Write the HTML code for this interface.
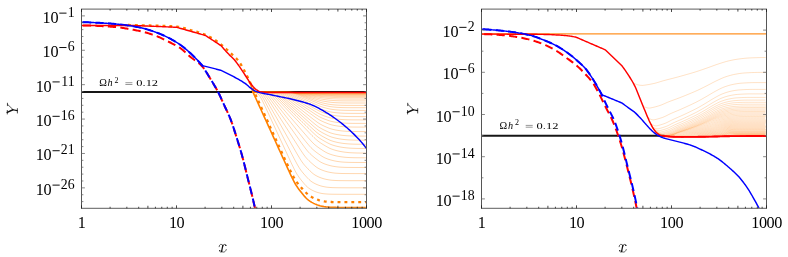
<!DOCTYPE html>
<html><head><meta charset="utf-8"><title>Y vs x</title>
<style>html,body{margin:0;padding:0;background:#fff}svg{display:block;will-change:transform}text{font-family:'Liberation Serif', serif;fill:#000}</style></head><body>
<svg width="788" height="257" viewBox="0 0 788 257">
<rect width="788" height="257" fill="#fff"/>
<defs><clipPath id="cl"><rect x="81.5" y="9" width="285" height="200.1"/></clipPath><clipPath id="cr"><rect x="481.5" y="9" width="285" height="200.1"/></clipPath></defs>
<g clip-path="url(#cl)" fill="none" stroke-linejoin="round">
<path d="M81.5,92.1H366.5" stroke="#161616" stroke-width="2"/>
<path d="M252,92.34L253,92.38L254,92.45L255,92.58L256,92.83L257,93.26L258,93.97L259,95.01L260,96.41L261,98.09L262,99.98L263,101.99L264,104.08L265,106.2L266,108.34L267,110.5L268,112.65L269,114.82L270,116.98L271,119.14L272,121.31L273,123.47L274,125.64L275,127.8L276,129.97L277,132.13L278,134.3L279,136.46L280,138.62L281,140.79L282,142.95L283,145.12L284,147.28L285,149.45L286,151.61L287,153.78L288,155.94L289,158.11L290,160.27L291,162.44L292,164.54L293,166.6L294,168.65L295,170.64L296,172.5L297,174.19L298,175.73L299,177.18L300,178.54L301,179.84L302,181.08L303,182.3L304,183.51L305,184.67L306,185.75L307,186.72L308,187.55L309,188.29L310,188.97L311,189.58L312,190.14L313,190.63L314,191.09L315,191.52L316,191.91L317,192.26L318,192.57L319,192.83L320,193.07L321,193.29L322,193.49L323,193.65L324,193.77L325,193.86L326,193.95L327,194.02L328,194.09L329,194.14L330,194.18L331,194.2L332,194.22L333,194.23L334,194.24L335,194.25L336,194.26L337,194.27L338,194.28L339,194.29L340,194.29L341,194.3L342,194.3L343,194.3L344,194.3L345,194.3L346,194.3L347,194.3L348,194.3L349,194.3L350,194.3L351,194.3L352,194.3L353,194.3L354,194.3L355,194.3L356,194.3L357,194.3L358,194.3L359,194.3L360,194.3L361,194.3L362,194.3L363,194.3L364,194.3L365,194.3L366,194.3M252,92.31L253,92.32L254,92.34L255,92.38L256,92.46L257,92.61L258,92.87L259,93.33L260,94.06L261,95.1L262,96.45L263,98.04L264,99.79L265,101.64L266,103.54L267,105.47L268,107.41L269,109.36L270,111.32L271,113.28L272,115.24L273,117.19L274,119.15L275,121.11L276,123.07L277,125.03L278,126.99L279,128.96L280,130.92L281,132.88L282,134.84L283,136.8L284,138.76L285,140.72L286,142.68L287,144.64L288,146.6L289,148.56L290,150.52L291,152.48L292,154.44L293,156.4L294,158.36L295,160.24L296,162.11L297,163.97L298,165.76L299,167.44L300,168.96L301,170.36L302,171.68L303,172.92L304,174.1L305,175.23L306,176.34L307,177.43L308,178.5L309,179.5L310,180.42L311,181.22L312,181.91L313,182.54L314,183.12L315,183.65L316,184.13L317,184.56L318,184.96L319,185.33L320,185.68L321,185.98L322,186.25L323,186.48L324,186.69L325,186.89L326,187.06L327,187.2L328,187.31L329,187.39L330,187.47L331,187.54L332,187.6L333,187.65L334,187.68L335,187.7L336,187.72L337,187.73L338,187.74L339,187.75L340,187.76L341,187.77L342,187.78L343,187.78L344,187.79L345,187.79L346,187.8L347,187.8L348,187.8L349,187.8L350,187.8L351,187.8L352,187.8L353,187.8L354,187.8L355,187.8L356,187.8L357,187.8L358,187.8L359,187.8L360,187.8L361,187.8L362,187.8L363,187.8L364,187.8L365,187.8L366,187.8M252,92.3L253,92.31L254,92.31L255,92.32L256,92.35L257,92.39L258,92.48L259,92.63L260,92.92L261,93.39L262,94.13L263,95.15L264,96.43L265,97.9L266,99.5L267,101.18L268,102.89L269,104.62L270,106.37L271,108.12L272,109.87L273,111.63L274,113.38L275,115.14L276,116.89L277,118.65L278,120.41L279,122.16L280,123.92L281,125.68L282,127.43L283,129.19L284,130.95L285,132.7L286,134.46L287,136.22L288,137.97L289,139.73L290,141.49L291,143.24L292,145L293,146.76L294,148.52L295,150.27L296,152.03L297,153.79L298,155.46L299,157.14L300,158.79L301,160.39L302,161.89L303,163.26L304,164.52L305,165.7L306,166.81L307,167.88L308,168.9L309,169.89L310,170.88L311,171.84L312,172.76L313,173.6L314,174.36L315,175.01L316,175.59L317,176.13L318,176.63L319,177.08L320,177.49L321,177.86L322,178.21L323,178.53L324,178.83L325,179.09L326,179.32L327,179.52L328,179.71L329,179.89L330,180.04L331,180.16L332,180.25L333,180.33L334,180.4L335,180.46L336,180.51L337,180.56L338,180.59L339,180.61L340,180.62L341,180.63L342,180.64L343,180.65L344,180.66L345,180.67L346,180.68L347,180.68L348,180.69L349,180.69L350,180.7L351,180.7L352,180.7L353,180.7L354,180.7L355,180.7L356,180.7L357,180.7L358,180.7L359,180.7L360,180.7L361,180.7L362,180.7L363,180.7L364,180.7L365,180.7L366,180.7M252,92.3L253,92.3L254,92.3L255,92.31L256,92.31L257,92.33L258,92.35L259,92.4L260,92.49L261,92.66L262,92.96L263,93.44L264,94.17L265,95.16L266,96.36L267,97.71L268,99.16L269,100.67L270,102.2L271,103.75L272,105.31L273,106.87L274,108.43L275,110L276,111.56L277,113.13L278,114.69L279,116.26L280,117.82L281,119.39L282,120.95L283,122.52L284,124.09L285,125.65L286,127.22L287,128.78L288,130.35L289,131.92L290,133.48L291,135.05L292,136.61L293,138.18L294,139.74L295,141.31L296,142.88L297,144.44L298,146.01L299,147.57L300,149.13L301,150.62L302,152.11L303,153.58L304,155L305,156.34L306,157.55L307,158.68L308,159.73L309,160.73L310,161.69L311,162.6L312,163.49L313,164.37L314,165.23L315,166.06L316,166.84L317,167.54L318,168.15L319,168.69L320,169.19L321,169.65L322,170.07L323,170.45L324,170.8L325,171.12L326,171.43L327,171.71L328,171.96L329,172.19L330,172.38L331,172.56L332,172.72L333,172.87L334,173.01L335,173.11L336,173.19L337,173.26L338,173.32L339,173.38L340,173.42L341,173.46L342,173.5L343,173.52L344,173.53L345,173.54L346,173.55L347,173.56L348,173.56L349,173.57L350,173.58L351,173.58L352,173.59L353,173.59L354,173.6L355,173.6L356,173.6L357,173.6L358,173.6L359,173.6L360,173.6L361,173.6L362,173.6L363,173.6L364,173.6L365,173.6L366,173.6M252,92.3L253,92.3L254,92.3L255,92.3L256,92.3L257,92.31L258,92.32L259,92.33L260,92.36L261,92.41L262,92.51L263,92.69L264,93L265,93.5L266,94.22L267,95.17L268,96.3L269,97.54L270,98.86L271,100.22L272,101.6L273,102.99L274,104.39L275,105.79L276,107.2L277,108.6L278,110L279,111.41L280,112.81L281,114.22L282,115.62L283,117.03L284,118.43L285,119.84L286,121.24L287,122.65L288,124.05L289,125.46L290,126.86L291,128.27L292,129.67L293,131.08L294,132.48L295,133.89L296,135.29L297,136.7L298,138.1L299,139.51L300,140.91L301,142.32L302,143.72L303,145.11L304,146.44L305,147.78L306,149.1L307,150.37L308,151.56L309,152.65L310,153.66L311,154.61L312,155.51L313,156.37L314,157.2L315,158L316,158.79L317,159.57L318,160.32L319,161.03L320,161.69L321,162.26L322,162.77L323,163.23L324,163.66L325,164.05L326,164.41L327,164.74L328,165.04L329,165.32L330,165.59L331,165.83L332,166.05L333,166.24L334,166.41L335,166.57L336,166.72L337,166.85L338,166.96L339,167.06L340,167.13L341,167.19L342,167.24L343,167.29L344,167.34L345,167.37L346,167.4L347,167.42L348,167.43L349,167.44L350,167.45L351,167.46L352,167.46L353,167.47L354,167.48L355,167.48L356,167.49L357,167.49L358,167.49L359,167.5L360,167.5L361,167.5L362,167.5L363,167.5L364,167.5L365,167.5L366,167.5M252,92.3L253,92.3L254,92.3L255,92.3L256,92.3L257,92.3L258,92.3L259,92.31L260,92.32L261,92.33L262,92.36L263,92.42L264,92.53L265,92.72L266,93.05L267,93.56L268,94.28L269,95.19L270,96.25L271,97.4L272,98.61L273,99.85L274,101.11L275,102.37L276,103.64L277,104.91L278,106.18L279,107.46L280,108.73L281,110L282,111.28L283,112.55L284,113.82L285,115.1L286,116.37L287,117.64L288,118.92L289,120.19L290,121.46L291,122.74L292,124.01L293,125.28L294,126.56L295,127.83L296,129.1L297,130.38L298,131.65L299,132.93L300,134.2L301,135.47L302,136.75L303,138.02L304,139.29L305,140.57L306,141.81L307,143.02L308,144.23L309,145.43L310,146.57L311,147.65L312,148.64L313,149.55L314,150.42L315,151.24L316,152.02L317,152.77L318,153.5L319,154.21L320,154.92L321,155.62L322,156.27L323,156.88L324,157.43L325,157.91L326,158.34L327,158.74L328,159.11L329,159.45L330,159.76L331,160.05L332,160.31L333,160.56L334,160.8L335,161.01L336,161.2L337,161.37L338,161.52L339,161.66L340,161.79L341,161.91L342,162.01L343,162.09L344,162.16L345,162.21L346,162.26L347,162.31L348,162.34L349,162.38L350,162.4L351,162.42L352,162.43L353,162.44L354,162.45L355,162.46L356,162.46L357,162.47L358,162.48L359,162.48L360,162.49L361,162.49L362,162.49L363,162.5L364,162.5L365,162.5L366,162.5M252,92.3L253,92.3L254,92.3L255,92.3L256,92.3L257,92.3L258,92.3L259,92.3L260,92.3L261,92.31L262,92.32L263,92.34L264,92.37L265,92.43L266,92.55L267,92.76L268,93.1L269,93.62L270,94.33L271,95.2L272,96.19L273,97.25L274,98.36L275,99.49L276,100.63L277,101.78L278,102.93L279,104.08L280,105.23L281,106.39L282,107.54L283,108.7L284,109.85L285,111.01L286,112.16L287,113.32L288,114.47L289,115.63L290,116.78L291,117.93L292,119.09L293,120.24L294,121.4L295,122.55L296,123.71L297,124.86L298,126.02L299,127.17L300,128.33L301,129.48L302,130.64L303,131.79L304,132.95L305,134.1L306,135.26L307,136.41L308,137.57L309,138.68L310,139.78L311,140.88L312,141.96L313,142.99L314,143.97L315,144.86L316,145.69L317,146.48L318,147.22L319,147.94L320,148.62L321,149.28L322,149.93L323,150.58L324,151.21L325,151.82L326,152.39L327,152.9L328,153.36L329,153.76L330,154.14L331,154.49L332,154.81L333,155.1L334,155.37L335,155.62L336,155.86L337,156.08L338,156.28L339,156.47L340,156.64L341,156.79L342,156.92L343,157.04L344,157.16L345,157.27L346,157.35L347,157.43L348,157.48L349,157.53L350,157.58L351,157.62L352,157.65L353,157.68L354,157.71L355,157.73L356,157.74L357,157.74L358,157.75L359,157.76L360,157.77L361,157.77L362,157.78L363,157.78L364,157.79L365,157.79L366,157.79M252,92.3L253,92.3L254,92.3L255,92.3L256,92.3L257,92.3L258,92.3L259,92.3L260,92.3L261,92.3L262,92.31L263,92.31L264,92.32L265,92.34L266,92.38L267,92.44L268,92.57L269,92.79L270,93.14L271,93.67L272,94.35L273,95.18L274,96.09L275,97.07L276,98.07L277,99.1L278,100.13L279,101.17L280,102.21L281,103.25L282,104.29L283,105.33L284,106.37L285,107.42L286,108.46L287,109.5L288,110.54L289,111.59L290,112.63L291,113.67L292,114.71L293,115.76L294,116.8L295,117.84L296,118.88L297,119.92L298,120.97L299,122.01L300,123.05L301,124.09L302,125.14L303,126.18L304,127.22L305,128.26L306,129.31L307,130.35L308,131.39L309,132.43L310,133.48L311,134.52L312,135.52L313,136.51L314,137.5L315,138.47L316,139.4L317,140.28L318,141.09L319,141.84L320,142.55L321,143.22L322,143.87L323,144.49L324,145.09L325,145.68L326,146.27L327,146.84L328,147.39L329,147.92L330,148.4L331,148.83L332,149.21L333,149.56L334,149.88L335,150.18L336,150.46L337,150.72L338,150.95L339,151.17L340,151.38L341,151.57L342,151.75L343,151.92L344,152.06L345,152.19L346,152.31L347,152.42L348,152.52L349,152.62L350,152.7L351,152.76L352,152.81L353,152.85L354,152.89L355,152.93L356,152.96L357,152.99L358,153.01L359,153.03L360,153.04L361,153.05L362,153.05L363,153.06L364,153.07L365,153.07L366,153.08M252,92.3L253,92.3L254,92.3L255,92.3L256,92.3L257,92.3L258,92.3L259,92.3L260,92.3L261,92.3L262,92.3L263,92.3L264,92.31L265,92.31L266,92.32L267,92.35L268,92.39L269,92.47L270,92.61L271,92.85L272,93.23L273,93.78L274,94.47L275,95.28L276,96.17L277,97.11L278,98.07L279,99.04L280,100.02L281,101.01L282,101.99L283,102.98L284,103.97L285,104.96L286,105.95L287,106.94L288,107.93L289,108.92L290,109.9L291,110.89L292,111.88L293,112.87L294,113.86L295,114.85L296,115.84L297,116.83L298,117.82L299,118.81L300,119.79L301,120.78L302,121.77L303,122.76L304,123.75L305,124.74L306,125.73L307,126.72L308,127.71L309,128.7L310,129.69L311,130.67L312,131.65L313,132.59L314,133.54L315,134.47L316,135.38L317,136.24L318,137.04L319,137.77L320,138.46L321,139.12L322,139.74L323,140.34L324,140.92L325,141.48L326,142.03L327,142.58L328,143.11L329,143.62L330,144.08L331,144.5L332,144.86L333,145.2L334,145.51L335,145.79L336,146.06L337,146.3L338,146.52L339,146.73L340,146.93L341,147.11L342,147.28L343,147.43L344,147.57L345,147.68L346,147.8L347,147.9L348,147.99L349,148.08L350,148.15L351,148.2L352,148.25L353,148.29L354,148.32L355,148.36L356,148.39L357,148.41L358,148.43L359,148.44L360,148.45L361,148.46L362,148.46L363,148.47L364,148.47L365,148.48L366,148.48M252,92.3L253,92.3L254,92.3L255,92.3L256,92.3L257,92.3L258,92.3L259,92.3L260,92.3L261,92.3L262,92.3L263,92.3L264,92.3L265,92.3L266,92.31L267,92.31L268,92.33L269,92.35L270,92.4L271,92.49L272,92.65L273,92.92L274,93.33L275,93.89L276,94.59L277,95.39L278,96.26L279,97.16L280,98.08L281,99.01L282,99.95L283,100.89L284,101.83L285,102.77L286,103.71L287,104.66L288,105.6L289,106.54L290,107.49L291,108.43L292,109.37L293,110.32L294,111.26L295,112.2L296,113.15L297,114.09L298,115.03L299,115.98L300,116.92L301,117.86L302,118.81L303,119.75L304,120.69L305,121.64L306,122.58L307,123.52L308,124.47L309,125.41L310,126.35L311,127.3L312,128.24L313,129.15L314,130.05L315,130.95L316,131.83L317,132.67L318,133.45L319,134.17L320,134.84L321,135.47L322,136.07L323,136.65L324,137.2L325,137.74L326,138.27L327,138.79L328,139.3L329,139.78L330,140.22L331,140.62L332,140.96L333,141.28L334,141.57L335,141.84L336,142.09L337,142.32L338,142.52L339,142.72L340,142.9L341,143.07L342,143.23L343,143.37L344,143.49L345,143.6L346,143.7L347,143.79L348,143.88L349,143.95L350,144.01L351,144.05L352,144.09L353,144.13L354,144.16L355,144.19L356,144.21L357,144.23L358,144.24L359,144.25L360,144.26L361,144.26L362,144.27L363,144.27L364,144.28L365,144.28L366,144.29M252,92.3L253,92.3L254,92.3L255,92.3L256,92.3L257,92.3L258,92.3L259,92.3L260,92.3L261,92.3L262,92.3L263,92.3L264,92.3L265,92.3L266,92.3L267,92.3L268,92.31L269,92.32L270,92.33L271,92.36L272,92.42L273,92.52L274,92.7L275,92.99L276,93.42L277,94L278,94.7L279,95.48L280,96.31L281,97.18L282,98.06L283,98.94L284,99.84L285,100.73L286,101.63L287,102.52L288,103.42L289,104.31L290,105.21L291,106.11L292,107L293,107.9L294,108.8L295,109.69L296,110.59L297,111.49L298,112.38L299,113.28L300,114.18L301,115.07L302,115.97L303,116.87L304,117.76L305,118.66L306,119.56L307,120.45L308,121.35L309,122.25L310,123.14L311,124.04L312,124.94L313,125.83L314,126.68L315,127.53L316,128.38L317,129.19L318,129.96L319,130.67L320,131.31L321,131.92L322,132.5L323,133.05L324,133.58L325,134.09L326,134.6L327,135.1L328,135.58L329,136.04L330,136.46L331,136.83L332,137.16L333,137.45L334,137.73L335,137.98L336,138.21L337,138.42L338,138.62L339,138.8L340,138.97L341,139.13L342,139.27L343,139.39L344,139.5L345,139.6L346,139.7L347,139.78L348,139.85L349,139.91L350,139.96L351,140L352,140.03L353,140.07L354,140.09L355,140.12L356,140.14L357,140.15L358,140.16L359,140.16L360,140.17L361,140.17L362,140.18L363,140.18L364,140.19L365,140.19L366,140.19M252,92.3L253,92.3L254,92.3L255,92.3L256,92.3L257,92.3L258,92.3L259,92.3L260,92.3L261,92.3L262,92.3L263,92.3L264,92.3L265,92.3L266,92.3L267,92.3L268,92.3L269,92.31L270,92.31L271,92.32L272,92.34L273,92.37L274,92.43L275,92.55L276,92.75L277,93.06L278,93.51L279,94.09L280,94.78L281,95.54L282,96.33L283,97.16L284,97.99L285,98.83L286,99.67L287,100.52L288,101.36L289,102.21L290,103.06L291,103.9L292,104.75L293,105.6L294,106.44L295,107.29L296,108.14L297,108.98L298,109.83L299,110.68L300,111.52L301,112.37L302,113.22L303,114.06L304,114.91L305,115.76L306,116.6L307,117.45L308,118.3L309,119.14L310,119.99L311,120.84L312,121.69L313,122.53L314,123.35L315,124.16L316,124.96L317,125.74L318,126.49L319,127.18L320,127.8L321,128.39L322,128.94L323,129.47L324,129.97L325,130.45L326,130.93L327,131.4L328,131.86L329,132.29L330,132.69L331,133.04L332,133.34L333,133.62L334,133.88L335,134.11L336,134.33L337,134.52L338,134.7L339,134.87L340,135.03L341,135.17L342,135.3L343,135.41L344,135.51L345,135.6L346,135.68L347,135.76L348,135.82L349,135.87L350,135.91L351,135.94L352,135.97L353,136L354,136.02L355,136.04L356,136.05L357,136.06L358,136.06L359,136.07L360,136.07L361,136.08L362,136.08L363,136.09L364,136.09L365,136.09L366,136.1M252,92.3L253,92.3L254,92.3L255,92.3L256,92.3L257,92.3L258,92.3L259,92.3L260,92.3L261,92.3L262,92.3L263,92.3L264,92.3L265,92.3L266,92.3L267,92.3L268,92.3L269,92.3L270,92.3L271,92.31L272,92.31L273,92.32L274,92.34L275,92.38L276,92.45L277,92.58L278,92.79L279,93.12L280,93.57L281,94.15L282,94.81L283,95.52L284,96.27L285,97.04L286,97.81L287,98.59L288,99.37L289,100.16L290,100.94L291,101.73L292,102.51L293,103.3L294,104.09L295,104.87L296,105.66L297,106.44L298,107.23L299,108.01L300,108.8L301,109.58L302,110.37L303,111.16L304,111.94L305,112.73L306,113.51L307,114.3L308,115.08L309,115.87L310,116.66L311,117.44L312,118.23L313,119.01L314,119.79L315,120.54L316,121.29L317,122.03L318,122.73L319,123.39L320,123.99L321,124.54L322,125.06L323,125.55L324,126.02L325,126.48L326,126.92L327,127.36L328,127.78L329,128.18L330,128.55L331,128.87L332,129.15L333,129.41L334,129.65L335,129.86L336,130.05L337,130.23L338,130.39L339,130.55L340,130.69L341,130.81L342,130.93L343,131.02L344,131.11L345,131.19L346,131.27L347,131.33L348,131.38L349,131.41L350,131.45L351,131.48L352,131.5L353,131.53L354,131.54L355,131.56L356,131.56L357,131.57L358,131.57L359,131.58L360,131.58L361,131.59L362,131.59L363,131.59L364,131.59L365,131.6L366,131.6M252,92.3L253,92.3L254,92.3L255,92.3L256,92.3L257,92.3L258,92.3L259,92.3L260,92.3L261,92.3L262,92.3L263,92.3L264,92.3L265,92.3L266,92.3L267,92.3L268,92.3L269,92.3L270,92.3L271,92.3L272,92.3L273,92.31L274,92.31L275,92.32L276,92.35L277,92.39L278,92.47L279,92.6L280,92.83L281,93.16L282,93.62L283,94.17L284,94.79L285,95.46L286,96.15L287,96.85L288,97.57L289,98.28L290,99L291,99.72L292,100.44L293,101.16L294,101.88L295,102.6L296,103.32L297,104.04L298,104.76L299,105.48L300,106.2L301,106.92L302,107.64L303,108.36L304,109.08L305,109.8L306,110.52L307,111.24L308,111.96L309,112.68L310,113.4L311,114.12L312,114.84L313,115.56L314,116.28L315,116.98L316,117.67L317,118.35L318,119.01L319,119.63L320,120.2L321,120.71L322,121.2L323,121.66L324,122.09L325,122.51L326,122.91L327,123.32L328,123.71L329,124.08L330,124.41L331,124.7L332,124.96L333,125.19L334,125.4L335,125.6L336,125.77L337,125.93L338,126.08L339,126.21L340,126.34L341,126.45L342,126.54L343,126.63L344,126.71L345,126.78L346,126.84L347,126.89L348,126.93L349,126.96L350,126.98L351,127.01L352,127.03L353,127.05L354,127.06L355,127.07L356,127.07L357,127.08L358,127.08L359,127.08L360,127.09L361,127.09L362,127.09L363,127.1L364,127.1L365,127.1L366,127.1M252,92.3L253,92.3L254,92.3L255,92.3L256,92.3L257,92.3L258,92.3L259,92.3L260,92.3L261,92.3L262,92.3L263,92.3L264,92.3L265,92.3L266,92.3L267,92.3L268,92.3L269,92.3L270,92.3L271,92.3L272,92.3L273,92.3L274,92.3L275,92.31L276,92.31L277,92.33L278,92.35L279,92.4L280,92.48L281,92.63L282,92.87L283,93.21L284,93.66L285,94.2L286,94.79L287,95.41L288,96.06L289,96.72L290,97.38L291,98.04L292,98.71L293,99.37L294,100.04L295,100.71L296,101.37L297,102.04L298,102.71L299,103.37L300,104.04L301,104.71L302,105.38L303,106.04L304,106.71L305,107.38L306,108.04L307,108.71L308,109.38L309,110.04L310,110.71L311,111.38L312,112.05L313,112.71L314,113.38L315,114.05L316,114.68L317,115.31L318,115.94L319,116.53L320,117.07L321,117.56L322,118.02L323,118.45L324,118.85L325,119.24L326,119.62L327,119.99L328,120.36L329,120.7L330,121.01L331,121.28L332,121.51L333,121.72L334,121.92L335,122.09L336,122.25L337,122.39L338,122.53L339,122.65L340,122.76L341,122.86L342,122.94L343,123.01L344,123.08L345,123.14L346,123.2L347,123.23L348,123.26L349,123.29L350,123.31L351,123.33L352,123.35L353,123.36L354,123.37L355,123.37L356,123.38L357,123.38L358,123.39L359,123.39L360,123.39L361,123.39L362,123.4L363,123.4L364,123.4L365,123.4L366,123.4M252,92.3L253,92.3L254,92.3L255,92.3L256,92.3L257,92.3L258,92.3L259,92.3L260,92.3L261,92.3L262,92.3L263,92.3L264,92.3L265,92.3L266,92.3L267,92.3L268,92.3L269,92.3L270,92.3L271,92.3L272,92.3L273,92.3L274,92.3L275,92.3L276,92.3L277,92.31L278,92.32L279,92.33L280,92.36L281,92.41L282,92.5L283,92.66L284,92.91L285,93.26L286,93.7L287,94.21L288,94.76L289,95.35L290,95.94L291,96.55L292,97.16L293,97.77L294,98.38L295,99L296,99.61L297,100.23L298,100.84L299,101.46L300,102.07L301,102.68L302,103.3L303,103.91L304,104.53L305,105.14L306,105.76L307,106.37L308,106.99L309,107.6L310,108.21L311,108.83L312,109.44L313,110.06L314,110.67L315,111.29L316,111.88L317,112.47L318,113.05L319,113.61L320,114.12L321,114.59L322,115.02L323,115.42L324,115.8L325,116.16L326,116.51L327,116.85L328,117.19L329,117.5L330,117.79L331,118.03L332,118.25L333,118.44L334,118.61L335,118.77L336,118.91L337,119.04L338,119.16L339,119.27L340,119.37L341,119.45L342,119.52L343,119.59L344,119.65L345,119.7L346,119.74L347,119.77L348,119.8L349,119.82L350,119.84L351,119.85L352,119.87L353,119.87L354,119.88L355,119.88L356,119.88L357,119.89L358,119.89L359,119.89L360,119.89L361,119.9L362,119.9L363,119.9L364,119.9L365,119.9L366,119.9M252,92.3L253,92.3L254,92.3L255,92.3L256,92.3L257,92.3L258,92.3L259,92.3L260,92.3L261,92.3L262,92.3L263,92.3L264,92.3L265,92.3L266,92.3L267,92.3L268,92.3L269,92.3L270,92.3L271,92.3L272,92.3L273,92.3L274,92.3L275,92.3L276,92.3L277,92.3L278,92.3L279,92.31L280,92.32L281,92.33L282,92.36L283,92.42L284,92.52L285,92.69L286,92.94L287,93.29L288,93.71L289,94.19L290,94.71L291,95.25L292,95.8L293,96.36L294,96.91L295,97.47L296,98.04L297,98.6L298,99.16L299,99.72L300,100.28L301,100.85L302,101.41L303,101.97L304,102.53L305,103.1L306,103.66L307,104.22L308,104.78L309,105.34L310,105.91L311,106.47L312,107.03L313,107.59L314,108.16L315,108.72L316,109.28L317,109.81L318,110.35L319,110.87L320,111.36L321,111.8L322,112.2L323,112.57L324,112.92L325,113.26L326,113.58L327,113.89L328,114.2L329,114.49L330,114.75L331,114.97L332,115.16L333,115.34L334,115.5L335,115.64L336,115.76L337,115.88L338,115.99L339,116.08L340,116.17L341,116.24L342,116.3L343,116.36L344,116.41L345,116.45L346,116.48L347,116.5L348,116.52L349,116.54L350,116.56L351,116.57L352,116.58L353,116.58L354,116.58L355,116.59L356,116.59L357,116.59L358,116.59L359,116.6L360,116.6L361,116.6L362,116.6L363,116.6L364,116.6L365,116.6L366,116.6M252,92.3L253,92.3L254,92.3L255,92.3L256,92.3L257,92.3L258,92.3L259,92.3L260,92.3L261,92.3L262,92.3L263,92.3L264,92.3L265,92.3L266,92.3L267,92.3L268,92.3L269,92.3L270,92.3L271,92.3L272,92.3L273,92.3L274,92.3L275,92.3L276,92.3L277,92.3L278,92.3L279,92.3L280,92.31L281,92.31L282,92.32L283,92.34L284,92.37L285,92.43L286,92.54L287,92.71L288,92.97L289,93.3L290,93.7L291,94.15L292,94.62L293,95.11L294,95.61L295,96.12L296,96.62L297,97.13L298,97.64L299,98.14L300,98.65L301,99.16L302,99.67L303,100.18L304,100.69L305,101.19L306,101.7L307,102.21L308,102.72L309,103.23L310,103.73L311,104.24L312,104.75L313,105.26L314,105.77L315,106.28L316,106.78L317,107.28L318,107.76L319,108.24L320,108.7L321,109.11L322,109.48L323,109.83L324,110.15L325,110.45L326,110.74L327,111.03L328,111.3L329,111.57L330,111.8L331,112L332,112.17L333,112.33L334,112.47L335,112.59L336,112.7L337,112.81L338,112.9L339,112.98L340,113.05L341,113.11L342,113.17L343,113.22L344,113.26L345,113.29L346,113.31L347,113.33L348,113.35L349,113.36L350,113.37L351,113.38L352,113.38L353,113.39L354,113.39L355,113.39L356,113.39L357,113.4L358,113.4L359,113.4L360,113.4L361,113.4L362,113.4L363,113.4L364,113.4L365,113.4L366,113.4M252,92.3L253,92.3L254,92.3L255,92.3L256,92.3L257,92.3L258,92.3L259,92.3L260,92.3L261,92.3L262,92.3L263,92.3L264,92.3L265,92.3L266,92.3L267,92.3L268,92.3L269,92.3L270,92.3L271,92.3L272,92.3L273,92.3L274,92.3L275,92.3L276,92.3L277,92.3L278,92.3L279,92.3L280,92.3L281,92.3L282,92.31L283,92.31L284,92.32L285,92.34L286,92.38L287,92.44L288,92.55L289,92.73L290,92.98L291,93.3L292,93.67L293,94.08L294,94.51L295,94.95L296,95.4L297,95.85L298,96.3L299,96.76L300,97.21L301,97.66L302,98.12L303,98.57L304,99.03L305,99.48L306,99.94L307,100.39L308,100.85L309,101.3L310,101.76L311,102.21L312,102.66L313,103.12L314,103.57L315,104.03L316,104.48L317,104.94L318,105.37L319,105.8L320,106.22L321,106.6L322,106.95L323,107.26L324,107.55L325,107.83L326,108.09L327,108.34L328,108.59L329,108.83L330,109.04L331,109.21L332,109.37L333,109.5L334,109.62L335,109.73L336,109.83L337,109.92L338,110L339,110.07L340,110.13L341,110.18L342,110.22L343,110.26L344,110.29L345,110.32L346,110.33L347,110.35L348,110.36L349,110.37L350,110.38L351,110.38L352,110.39L353,110.39L354,110.39L355,110.39L356,110.4L357,110.4L358,110.4L359,110.4L360,110.4L361,110.4L362,110.4L363,110.4L364,110.4L365,110.4L366,110.4M252,92.3L253,92.3L254,92.3L255,92.3L256,92.3L257,92.3L258,92.3L259,92.3L260,92.3L261,92.3L262,92.3L263,92.3L264,92.3L265,92.3L266,92.3L267,92.3L268,92.3L269,92.3L270,92.3L271,92.3L272,92.3L273,92.3L274,92.3L275,92.3L276,92.3L277,92.3L278,92.3L279,92.3L280,92.3L281,92.3L282,92.3L283,92.3L284,92.31L285,92.31L286,92.32L287,92.34L288,92.38L289,92.45L290,92.57L291,92.74L292,92.98L293,93.28L294,93.62L295,93.99L296,94.38L297,94.77L298,95.17L299,95.58L300,95.98L301,96.38L302,96.79L303,97.19L304,97.59L305,98L306,98.4L307,98.8L308,99.21L309,99.61L310,100.02L311,100.42L312,100.83L313,101.23L314,101.63L315,102.04L316,102.44L317,102.85L318,103.24L319,103.62L320,104L321,104.36L322,104.67L323,104.96L324,105.22L325,105.47L326,105.7L327,105.93L328,106.15L329,106.36L330,106.55L331,106.7L332,106.84L333,106.96L334,107.06L335,107.15L336,107.24L337,107.32L338,107.38L339,107.44L340,107.49L341,107.53L342,107.57L343,107.6L344,107.62L345,107.64L346,107.66L347,107.67L348,107.68L349,107.68L350,107.69L351,107.69L352,107.69L353,107.69L354,107.7L355,107.7L356,107.7L357,107.7L358,107.7L359,107.7L360,107.7L361,107.7L362,107.7L363,107.7L364,107.7L365,107.7L366,107.7M252,92.3L253,92.3L254,92.3L255,92.3L256,92.3L257,92.3L258,92.3L259,92.3L260,92.3L261,92.3L262,92.3L263,92.3L264,92.3L265,92.3L266,92.3L267,92.3L268,92.3L269,92.3L270,92.3L271,92.3L272,92.3L273,92.3L274,92.3L275,92.3L276,92.3L277,92.3L278,92.3L279,92.3L280,92.3L281,92.3L282,92.3L283,92.3L284,92.3L285,92.3L286,92.31L287,92.32L288,92.34L289,92.37L290,92.42L291,92.52L292,92.67L293,92.87L294,93.13L295,93.43L296,93.75L297,94.09L298,94.43L299,94.78L300,95.13L301,95.49L302,95.84L303,96.19L304,96.55L305,96.9L306,97.25L307,97.61L308,97.96L309,98.32L310,98.67L311,99.02L312,99.38L313,99.73L314,100.09L315,100.44L316,100.79L317,101.15L318,101.5L319,101.83L320,102.17L321,102.49L322,102.77L323,103.03L324,103.26L325,103.48L326,103.68L327,103.88L328,104.08L329,104.26L330,104.42L331,104.56L332,104.67L333,104.78L334,104.87L335,104.95L336,105.02L337,105.09L338,105.14L339,105.19L340,105.23L341,105.27L342,105.3L343,105.32L344,105.34L345,105.36L346,105.37L347,105.38L348,105.38L349,105.39L350,105.39L351,105.39L352,105.39L353,105.4L354,105.4L355,105.4L356,105.4L357,105.4L358,105.4L359,105.4L360,105.4L361,105.4L362,105.4L363,105.4L364,105.4L365,105.4L366,105.4M252,92.3L253,92.3L254,92.3L255,92.3L256,92.3L257,92.3L258,92.3L259,92.3L260,92.3L261,92.3L262,92.3L263,92.3L264,92.3L265,92.3L266,92.3L267,92.3L268,92.3L269,92.3L270,92.3L271,92.3L272,92.3L273,92.3L274,92.3L275,92.3L276,92.3L277,92.3L278,92.3L279,92.3L280,92.3L281,92.3L282,92.3L283,92.3L284,92.3L285,92.3L286,92.31L287,92.32L288,92.33L289,92.36L290,92.4L291,92.48L292,92.6L293,92.77L294,92.98L295,93.22L296,93.49L297,93.76L298,94.04L299,94.33L300,94.61L301,94.9L302,95.19L303,95.48L304,95.77L305,96.06L306,96.35L307,96.64L308,96.93L309,97.21L310,97.5L311,97.79L312,98.08L313,98.37L314,98.66L315,98.95L316,99.24L317,99.53L318,99.81L319,100.09L320,100.36L321,100.62L322,100.85L323,101.06L324,101.25L325,101.43L326,101.6L327,101.76L328,101.92L329,102.07L330,102.2L331,102.31L332,102.41L333,102.49L334,102.57L335,102.63L336,102.69L337,102.74L338,102.79L339,102.83L340,102.86L341,102.89L342,102.92L343,102.94L344,102.95L345,102.96L346,102.97L347,102.98L348,102.99L349,102.99L350,102.99L351,102.99L352,103L353,103L354,103L355,103L356,103L357,103L358,103L359,103L360,103L361,103L362,103L363,103L364,103L365,103L366,103M252,92.3L253,92.3L254,92.3L255,92.3L256,92.3L257,92.3L258,92.3L259,92.3L260,92.3L261,92.3L262,92.3L263,92.3L264,92.3L265,92.3L266,92.3L267,92.3L268,92.3L269,92.3L270,92.3L271,92.3L272,92.3L273,92.3L274,92.3L275,92.3L276,92.3L277,92.3L278,92.3L279,92.3L280,92.3L281,92.3L282,92.3L283,92.3L284,92.3L285,92.3L286,92.31L287,92.31L288,92.32L289,92.34L290,92.38L291,92.44L292,92.54L293,92.68L294,92.85L295,93.04L296,93.25L297,93.47L298,93.7L299,93.93L300,94.16L301,94.39L302,94.62L303,94.86L304,95.09L305,95.32L306,95.55L307,95.79L308,96.02L309,96.25L310,96.48L311,96.71L312,96.95L313,97.18L314,97.41L315,97.64L316,97.88L317,98.11L318,98.34L319,98.56L320,98.78L321,98.99L322,99.18L323,99.34L324,99.5L325,99.64L326,99.77L327,99.9L328,100.03L329,100.15L330,100.26L331,100.35L332,100.42L333,100.49L334,100.55L335,100.6L336,100.65L337,100.69L338,100.73L339,100.76L340,100.79L341,100.81L342,100.84L343,100.85L344,100.86L345,100.87L346,100.88L347,100.89L348,100.89L349,100.89L350,100.89L351,100.89L352,100.9L353,100.9L354,100.9L355,100.9L356,100.9L357,100.9L358,100.9L359,100.9L360,100.9L361,100.9L362,100.9L363,100.9L364,100.9L365,100.9L366,100.9M252,92.3L253,92.3L254,92.3L255,92.3L256,92.3L257,92.3L258,92.3L259,92.3L260,92.3L261,92.3L262,92.3L263,92.3L264,92.3L265,92.3L266,92.3L267,92.3L268,92.3L269,92.3L270,92.3L271,92.3L272,92.3L273,92.3L274,92.3L275,92.3L276,92.3L277,92.3L278,92.3L279,92.3L280,92.3L281,92.3L282,92.3L283,92.3L284,92.3L285,92.3L286,92.31L287,92.31L288,92.32L289,92.33L290,92.36L291,92.41L292,92.49L293,92.6L294,92.73L295,92.89L296,93.05L297,93.23L298,93.41L299,93.59L300,93.77L301,93.95L302,94.14L303,94.32L304,94.5L305,94.69L306,94.87L307,95.06L308,95.24L309,95.42L310,95.61L311,95.79L312,95.97L313,96.16L314,96.34L315,96.53L316,96.71L317,96.89L318,97.07L319,97.25L320,97.42L321,97.59L322,97.74L323,97.87L324,97.99L325,98.1L326,98.21L327,98.31L328,98.41L329,98.51L330,98.59L331,98.66L332,98.72L333,98.78L334,98.82L335,98.87L336,98.9L337,98.94L338,98.97L339,98.99L340,99.01L341,99.03L342,99.05L343,99.06L344,99.07L345,99.08L346,99.08L347,99.09L348,99.09L349,99.09L350,99.09L351,99.1L352,99.1L353,99.1L354,99.1L355,99.1L356,99.1L357,99.1L358,99.1L359,99.1L360,99.1L361,99.1L362,99.1L363,99.1L364,99.1L365,99.1L366,99.1M252,92.3L253,92.3L254,92.3L255,92.3L256,92.3L257,92.3L258,92.3L259,92.3L260,92.3L261,92.3L262,92.3L263,92.3L264,92.3L265,92.3L266,92.3L267,92.3L268,92.3L269,92.3L270,92.3L271,92.3L272,92.3L273,92.3L274,92.3L275,92.3L276,92.3L277,92.3L278,92.3L279,92.3L280,92.3L281,92.3L282,92.3L283,92.3L284,92.3L285,92.3L286,92.3L287,92.31L288,92.31L289,92.33L290,92.35L291,92.39L292,92.45L293,92.54L294,92.64L295,92.77L296,92.9L297,93.04L298,93.18L299,93.32L300,93.47L301,93.61L302,93.76L303,93.9L304,94.05L305,94.2L306,94.34L307,94.49L308,94.63L309,94.78L310,94.93L311,95.07L312,95.22L313,95.36L314,95.51L315,95.66L316,95.8L317,95.95L318,96.09L319,96.23L320,96.37L321,96.5L322,96.62L323,96.72L324,96.82L325,96.91L326,96.99L327,97.07L328,97.16L329,97.23L330,97.3L331,97.35L332,97.4L333,97.44L334,97.48L335,97.51L336,97.54L337,97.57L338,97.59L339,97.61L340,97.63L341,97.65L342,97.66L343,97.67L344,97.68L345,97.68L346,97.69L347,97.69L348,97.69L349,97.69L350,97.7L351,97.7L352,97.7L353,97.7L354,97.7L355,97.7L356,97.7L357,97.7L358,97.7L359,97.7L360,97.7L361,97.7L362,97.7L363,97.7L364,97.7L365,97.7L366,97.7M252,92.3L253,92.3L254,92.3L255,92.3L256,92.3L257,92.3L258,92.3L259,92.3L260,92.3L261,92.3L262,92.3L263,92.3L264,92.3L265,92.3L266,92.3L267,92.3L268,92.3L269,92.3L270,92.3L271,92.3L272,92.3L273,92.3L274,92.3L275,92.3L276,92.3L277,92.3L278,92.3L279,92.3L280,92.3L281,92.3L282,92.3L283,92.3L284,92.3L285,92.3L286,92.3L287,92.31L288,92.31L289,92.32L290,92.34L291,92.37L292,92.42L293,92.49L294,92.57L295,92.67L296,92.78L297,92.89L298,93L299,93.11L300,93.23L301,93.35L302,93.46L303,93.58L304,93.69L305,93.81L306,93.93L307,94.04L308,94.16L309,94.27L310,94.39L311,94.51L312,94.62L313,94.74L314,94.86L315,94.97L316,95.09L317,95.2L318,95.32L319,95.43L320,95.54L321,95.64L322,95.74L323,95.82L324,95.9L325,95.97L326,96.04L327,96.1L328,96.17L329,96.23L330,96.28L331,96.32L332,96.36L333,96.4L334,96.43L335,96.45L336,96.48L337,96.5L338,96.52L339,96.53L340,96.55L341,96.56L342,96.57L343,96.58L344,96.58L345,96.59L346,96.59L347,96.59L348,96.59L349,96.6L350,96.6L351,96.6L352,96.6L353,96.6L354,96.6L355,96.6L356,96.6L357,96.6L358,96.6L359,96.6L360,96.6L361,96.6L362,96.6L363,96.6L364,96.6L365,96.6L366,96.6M252,92.3L253,92.3L254,92.3L255,92.3L256,92.3L257,92.3L258,92.3L259,92.3L260,92.3L261,92.3L262,92.3L263,92.3L264,92.3L265,92.3L266,92.3L267,92.3L268,92.3L269,92.3L270,92.3L271,92.3L272,92.3L273,92.3L274,92.3L275,92.3L276,92.3L277,92.3L278,92.3L279,92.3L280,92.3L281,92.3L282,92.3L283,92.3L284,92.3L285,92.3L286,92.3L287,92.3L288,92.31L289,92.32L290,92.33L291,92.36L292,92.4L293,92.45L294,92.52L295,92.59L296,92.68L297,92.76L298,92.85L299,92.94L300,93.04L301,93.13L302,93.22L303,93.31L304,93.4L305,93.49L306,93.59L307,93.68L308,93.77L309,93.86L310,93.95L311,94.05L312,94.14L313,94.23L314,94.32L315,94.41L316,94.5L317,94.6L318,94.69L319,94.77L320,94.86L321,94.94L322,95.02L323,95.08L324,95.14L325,95.2L326,95.25L327,95.31L328,95.36L329,95.4L330,95.45L331,95.48L332,95.51L333,95.54L334,95.56L335,95.58L336,95.6L337,95.62L338,95.63L339,95.65L340,95.66L341,95.67L342,95.67L343,95.68L344,95.68L345,95.69L346,95.69L347,95.69L348,95.7L349,95.7L350,95.7L351,95.7L352,95.7L353,95.7L354,95.7L355,95.7L356,95.7L357,95.7L358,95.7L359,95.7L360,95.7L361,95.7L362,95.7L363,95.7L364,95.7L365,95.7L366,95.7M252,92.3L253,92.3L254,92.3L255,92.3L256,92.3L257,92.3L258,92.3L259,92.3L260,92.3L261,92.3L262,92.3L263,92.3L264,92.3L265,92.3L266,92.3L267,92.3L268,92.3L269,92.3L270,92.3L271,92.3L272,92.3L273,92.3L274,92.3L275,92.3L276,92.3L277,92.3L278,92.3L279,92.3L280,92.3L281,92.3L282,92.3L283,92.3L284,92.3L285,92.3L286,92.3L287,92.3L288,92.31L289,92.31L290,92.33L291,92.35L292,92.38L293,92.42L294,92.47L295,92.53L296,92.6L297,92.67L298,92.74L299,92.81L300,92.88L301,92.96L302,93.03L303,93.1L304,93.18L305,93.25L306,93.32L307,93.39L308,93.47L309,93.54L310,93.61L311,93.69L312,93.76L313,93.83L314,93.9L315,93.98L316,94.05L317,94.12L318,94.2L319,94.27L320,94.33L321,94.4L322,94.46L323,94.51L324,94.56L325,94.6L326,94.65L327,94.69L328,94.73L329,94.77L330,94.8L331,94.83L332,94.85L333,94.87L334,94.89L335,94.91L336,94.92L337,94.94L338,94.95L339,94.96L340,94.97L341,94.97L342,94.98L343,94.98L344,94.99L345,94.99L346,94.99L347,95L348,95L349,95L350,95L351,95L352,95L353,95L354,95L355,95L356,95L357,95L358,95L359,95L360,95L361,95L362,95L363,95L364,95L365,95L366,95M252,92.3L253,92.3L254,92.3L255,92.3L256,92.3L257,92.3L258,92.3L259,92.3L260,92.3L261,92.3L262,92.3L263,92.3L264,92.3L265,92.3L266,92.3L267,92.3L268,92.3L269,92.3L270,92.3L271,92.3L272,92.3L273,92.3L274,92.3L275,92.3L276,92.3L277,92.3L278,92.3L279,92.3L280,92.3L281,92.3L282,92.3L283,92.3L284,92.3L285,92.3L286,92.3L287,92.3L288,92.31L289,92.31L290,92.32L291,92.34L292,92.36L293,92.39L294,92.44L295,92.49L296,92.54L297,92.59L298,92.65L299,92.71L300,92.77L301,92.82L302,92.88L303,92.94L304,93L305,93.06L306,93.11L307,93.17L308,93.23L309,93.29L310,93.35L311,93.4L312,93.46L313,93.52L314,93.58L315,93.64L316,93.69L317,93.75L318,93.81L319,93.86L320,93.92L321,93.97L322,94.02L323,94.06L324,94.1L325,94.13L326,94.17L327,94.2L328,94.23L329,94.26L330,94.29L331,94.31L332,94.33L333,94.35L334,94.36L335,94.38L336,94.39L337,94.4L338,94.41L339,94.42L340,94.42L341,94.43L342,94.43L343,94.44L344,94.44L345,94.44L346,94.44L347,94.45L348,94.45L349,94.45L350,94.45L351,94.45L352,94.45L353,94.45L354,94.45L355,94.45L356,94.45L357,94.45L358,94.45L359,94.45L360,94.45L361,94.45L362,94.45L363,94.45L364,94.45L365,94.45L366,94.45M252,92.3L253,92.3L254,92.3L255,92.3L256,92.3L257,92.3L258,92.3L259,92.3L260,92.3L261,92.3L262,92.3L263,92.3L264,92.3L265,92.3L266,92.3L267,92.3L268,92.3L269,92.3L270,92.3L271,92.3L272,92.3L273,92.3L274,92.3L275,92.3L276,92.3L277,92.3L278,92.3L279,92.3L280,92.3L281,92.3L282,92.3L283,92.3L284,92.3L285,92.3L286,92.3L287,92.3L288,92.3L289,92.31L290,92.32L291,92.33L292,92.35L293,92.37L294,92.41L295,92.45L296,92.49L297,92.53L298,92.58L299,92.62L300,92.67L301,92.71L302,92.76L303,92.81L304,92.85L305,92.9L306,92.94L307,92.99L308,93.03L309,93.08L310,93.13L311,93.17L312,93.22L313,93.26L314,93.31L315,93.36L316,93.4L317,93.45L318,93.49L319,93.54L320,93.58L321,93.62L322,93.66L323,93.69L324,93.72L325,93.75L326,93.78L327,93.8L328,93.83L329,93.85L330,93.87L331,93.89L332,93.91L333,93.92L334,93.93L335,93.94L336,93.95L337,93.96L338,93.97L339,93.97L340,93.98L341,93.98L342,93.99L343,93.99L344,93.99L345,93.99L346,94L347,94L348,94L349,94L350,94L351,94L352,94L353,94L354,94L355,94L356,94L357,94L358,94L359,94L360,94L361,94L362,94L363,94L364,94L365,94L366,94M252,92.3L253,92.3L254,92.3L255,92.3L256,92.3L257,92.3L258,92.3L259,92.3L260,92.3L261,92.3L262,92.3L263,92.3L264,92.3L265,92.3L266,92.3L267,92.3L268,92.3L269,92.3L270,92.3L271,92.3L272,92.3L273,92.3L274,92.3L275,92.3L276,92.3L277,92.3L278,92.3L279,92.3L280,92.3L281,92.3L282,92.3L283,92.3L284,92.3L285,92.3L286,92.3L287,92.3L288,92.3L289,92.31L290,92.31L291,92.32L292,92.34L293,92.36L294,92.39L295,92.42L296,92.45L297,92.48L298,92.52L299,92.56L300,92.59L301,92.63L302,92.66L303,92.7L304,92.74L305,92.77L306,92.81L307,92.85L308,92.88L309,92.92L310,92.96L311,92.99L312,93.03L313,93.07L314,93.1L315,93.14L316,93.18L317,93.21L318,93.25L319,93.28L320,93.32L321,93.35L322,93.38L323,93.41L324,93.43L325,93.45L326,93.47L327,93.49L328,93.51L329,93.53L330,93.55L331,93.56L332,93.58L333,93.59L334,93.6L335,93.6L336,93.61L337,93.62L338,93.62L339,93.63L340,93.63L341,93.64L342,93.64L343,93.64L344,93.64L345,93.65L346,93.65L347,93.65L348,93.65L349,93.65L350,93.65L351,93.65L352,93.65L353,93.65L354,93.65L355,93.65L356,93.65L357,93.65L358,93.65L359,93.65L360,93.65L361,93.65L362,93.65L363,93.65L364,93.65L365,93.65L366,93.65M252,92.3L253,92.3L254,92.3L255,92.3L256,92.3L257,92.3L258,92.3L259,92.3L260,92.3L261,92.3L262,92.3L263,92.3L264,92.3L265,92.3L266,92.3L267,92.3L268,92.3L269,92.3L270,92.3L271,92.3L272,92.3L273,92.3L274,92.3L275,92.3L276,92.3L277,92.3L278,92.3L279,92.3L280,92.3L281,92.3L282,92.3L283,92.3L284,92.3L285,92.3L286,92.3L287,92.3L288,92.3L289,92.31L290,92.31L291,92.32L292,92.33L293,92.35L294,92.37L295,92.39L296,92.42L297,92.44L298,92.47L299,92.5L300,92.53L301,92.56L302,92.58L303,92.61L304,92.64L305,92.67L306,92.7L307,92.73L308,92.75L309,92.78L310,92.81L311,92.84L312,92.87L313,92.9L314,92.92L315,92.95L316,92.98L317,93.01L318,93.04L319,93.06L320,93.09L321,93.12L322,93.14L323,93.16L324,93.18L325,93.2L326,93.21L327,93.23L328,93.24L329,93.26L330,93.27L331,93.28L332,93.29L333,93.3L334,93.31L335,93.31L336,93.32L337,93.32L338,93.33L339,93.33L340,93.34L341,93.34L342,93.34L343,93.34L344,93.35L345,93.35L346,93.35L347,93.35L348,93.35L349,93.35L350,93.35L351,93.35L352,93.35L353,93.35L354,93.35L355,93.35L356,93.35L357,93.35L358,93.35L359,93.35L360,93.35L361,93.35L362,93.35L363,93.35L364,93.35L365,93.35L366,93.35M252,92.3L253,92.3L254,92.3L255,92.3L256,92.3L257,92.3L258,92.3L259,92.3L260,92.3L261,92.3L262,92.3L263,92.3L264,92.3L265,92.3L266,92.3L267,92.3L268,92.3L269,92.3L270,92.3L271,92.3L272,92.3L273,92.3L274,92.3L275,92.3L276,92.3L277,92.3L278,92.3L279,92.3L280,92.3L281,92.3L282,92.3L283,92.3L284,92.3L285,92.3L286,92.3L287,92.3L288,92.3L289,92.3L290,92.31L291,92.31L292,92.32L293,92.34L294,92.35L295,92.37L296,92.39L297,92.41L298,92.43L299,92.45L300,92.47L301,92.49L302,92.52L303,92.54L304,92.56L305,92.58L306,92.6L307,92.62L308,92.65L309,92.67L310,92.69L311,92.71L312,92.73L313,92.75L314,92.78L315,92.8L316,92.82L317,92.84L318,92.86L319,92.88L320,92.9L321,92.92L322,92.94L323,92.96L324,92.97L325,92.98L326,93L327,93.01L328,93.02L329,93.03L330,93.04L331,93.05L332,93.06L333,93.06L334,93.07L335,93.07L336,93.08L337,93.08L338,93.08L339,93.09L340,93.09L341,93.09L342,93.09L343,93.1L344,93.1L345,93.1L346,93.1L347,93.1L348,93.1L349,93.1L350,93.1L351,93.1L352,93.1L353,93.1L354,93.1L355,93.1L356,93.1L357,93.1L358,93.1L359,93.1L360,93.1L361,93.1L362,93.1L363,93.1L364,93.1L365,93.1L366,93.1" stroke="#ff8000" stroke-width="0.55" stroke-opacity="0.58"/>
<path d="M249.1,81.8L250.6,84.1L252.8,91.7L253.8,93.9L254.8,96.09L255.8,98.29L256.8,100.49L257.8,102.68L258.8,104.88L259.8,107.07L260.8,109.27L261.8,111.47L262.8,113.66L263.8,115.86L264.8,118.06L265.8,120.25L266.8,122.45L267.8,124.65L268.8,126.84L269.8,129.04L270.8,131.24L271.8,133.43L272.8,135.63L273.8,137.82L274.8,140.02L275.8,142.22L276.8,144.41L277.8,146.61L278.8,148.81L279.8,151L280.8,153.2L281.8,155.4L282.8,157.59L283.8,159.79L284.8,161.99L285.8,164.18L286.8,166.38L287.8,168.57L288.8,170.77L289.8,172.94L290.8,175.03L291.8,177.12L292.8,179.18L293.8,181.17L294.8,183.03L295.8,184.72L296.8,186.29L297.8,187.77L298.8,189.17L299.8,190.51L300.8,191.8L301.8,193.04L302.8,194.28L303.8,195.49L304.8,196.66L305.8,197.76L306.8,198.75L307.8,199.63L308.8,200.4L309.8,201.11L310.8,201.76L311.8,202.36L312.8,202.9L313.8,203.4L314.8,203.86L315.8,204.29L316.8,204.7L317.8,205.07L318.8,205.39L319.8,205.68L320.8,205.93L321.8,206.17L322.8,206.39L323.8,206.59L324.8,206.75L325.8,206.88L326.8,206.97L327.8,207.06L328.8,207.15L329.8,207.22L330.8,207.28L331.8,207.33L332.8,207.37L333.8,207.39L334.8,207.4L335.8,207.42L336.8,207.43L337.8,207.44L338.8,207.45L339.8,207.46L340.8,207.47L341.8,207.48L342.8,207.48L343.8,207.49L344.8,207.49L345.8,207.5L346.8,207.5L347.8,207.5L348.8,207.5L349.8,207.5L350.8,207.5L351.8,207.5L352.8,207.5L353.8,207.5L354.8,207.5L355.8,207.5L356.8,207.5L357.8,207.5L358.8,207.5L359.8,207.5L360.8,207.5L361.8,207.5L362.8,207.5L363.8,207.5L364.8,207.5L365.8,207.5" stroke="#ff8000" stroke-width="1.6"/>
<path d="M128,25L129,25.01L130.01,25.03L131.01,25.05L132.02,25.06L133.02,25.08L134.03,25.1L135.03,25.12L136.04,25.14L137.04,25.16L138.05,25.19L139.05,25.21L140.06,25.23L141.06,25.26L142.07,25.28L143.07,25.31L144.08,25.33L145.08,25.36L146.09,25.39L147.09,25.42L148.1,25.45L149.1,25.47L150.11,25.5L151.11,25.53L152.12,25.56L153.12,25.59L154.12,25.62L155.13,25.65L156.13,25.68L157.14,25.71L158.14,25.74L159.15,25.77L160.15,25.8L161.16,25.83L162.16,25.87L163.17,25.9L164.17,25.93L165.18,25.97L166.18,26.01L167.19,26.05L168.19,26.09L169.2,26.14L170.2,26.19L171.21,26.24L172.21,26.3L173.22,26.36L174.22,26.42L175.23,26.49L176.23,26.56L177.24,26.65L178.24,26.77L179.24,26.93L180.25,27.12L181.25,27.35L182.26,27.59L183.26,27.87L184.27,28.15L185.27,28.46L186.28,28.77L187.28,29.09L188.29,29.4L189.29,29.72L190.3,30.03L191.3,30.32L192.31,30.6L193.31,30.87L194.32,31.14L195.32,31.4L196.33,31.67L197.33,31.95L198.34,32.25L199.34,32.55L200.35,32.88L201.35,33.23L202.36,33.6L203.36,33.99L204.36,34.4L205.37,34.83L206.37,35.27L207.38,35.73L208.38,36.21L209.39,36.72L210.39,37.24L211.4,37.8L212.4,38.37L213.41,38.97L214.41,39.6L215.42,40.26L216.42,40.97L217.43,41.71L218.43,42.47L219.44,43.26L220.44,44.05L221.45,44.87L222.45,45.72L223.46,46.59L224.46,47.48L225.47,48.38L226.47,49.28L227.48,50.19L228.48,51.12L229.48,52.05L230.49,53L231.49,53.95L232.5,54.87L233.5,55.77L234.51,56.69L235.51,57.64L236.52,58.65L237.52,59.75L238.53,60.96L239.53,62.35L240.54,63.92L241.54,65.61L242.55,67.38L243.55,69.17L244.56,71.04L245.56,73L246.57,75.02L247.57,77.08L248.58,79.16L249.58,81.25L250.59,83.38L251.59,85.58L252.6,87.85L253.6,90.2L254.6,92.75L255.6,94.95L256.6,97.15L257.6,99.34L258.6,101.54L259.6,103.74L260.6,105.93L261.6,108.13L262.6,110.32L263.6,112.52L264.6,114.72L265.6,116.91L266.6,119.11L267.6,121.31L268.6,123.5L269.6,125.7L270.6,127.9L271.6,130.09L272.6,132.29L273.6,134.49L274.6,136.68L275.6,138.88L276.6,141.07L277.6,143.27L278.6,145.47L279.6,147.66L280.6,149.86L281.6,152.06L282.6,154.25L283.6,156.45L284.6,158.65L285.6,160.84L286.6,162.97L287.6,165.04L288.6,167.12L289.6,169.2L290.6,171.16L291.6,173.13L292.6,175.08L293.6,176.97L294.6,178.73L295.6,180.35L296.6,181.81L297.6,183.19L298.6,184.49L299.6,185.72L300.6,186.89L301.6,188.02L302.6,189.14L303.6,190.24L304.6,191.3L305.6,192.29L306.6,193.26L307.6,194.16L308.6,194.95L309.6,195.67L310.6,196.33L311.6,196.94L312.6,197.5L313.6,198.01L314.6,198.47L315.6,198.91L316.6,199.32L317.6,199.69L318.6,200.03L319.6,200.33L320.6,200.58L321.6,200.83L322.6,201.05L323.6,201.25L324.6,201.42L325.6,201.56L326.6,201.66L327.6,201.75L328.6,201.83L329.6,201.91L330.6,201.97L331.6,202.02L332.6,202.06L333.6,202.08L334.6,202.1L335.6,202.11L336.6,202.13L337.6,202.14L338.6,202.15L339.6,202.16L340.6,202.17L341.6,202.18L342.6,202.18L343.6,202.19L344.6,202.19L345.6,202.2L346.6,202.2L347.6,202.2L348.6,202.2L349.6,202.2L350.6,202.2L351.6,202.2L352.6,202.2L353.6,202.2L354.6,202.2L355.6,202.2L356.6,202.2L357.6,202.2L358.6,202.2L359.6,202.2L360.6,202.2L361.6,202.2L362.6,202.2L363.6,202.2L364.6,202.2L365.6,202.2L366.6,202.2" stroke="#ff8000" stroke-width="2.3" stroke-dasharray="2.9 4.0"/>
<path d="M81.5,25.4L82.5,25.41L83.51,25.43L84.51,25.45L85.51,25.47L86.51,25.49L87.52,25.52L88.52,25.55L89.52,25.58L90.53,25.62L91.53,25.65L92.53,25.69L93.53,25.73L94.54,25.77L95.54,25.82L96.54,25.86L97.55,25.91L98.55,25.96L99.55,26L100.55,26.05L101.56,26.1L102.56,26.16L103.56,26.21L104.57,26.26L105.57,26.31L106.57,26.37L107.58,26.43L108.58,26.49L109.58,26.56L110.58,26.64L111.59,26.71L112.59,26.79L113.59,26.88L114.6,26.97L115.6,27.06L116.6,27.16L117.6,27.26L118.61,27.37L119.61,27.49L120.61,27.62L121.62,27.76L122.62,27.91L123.62,28.07L124.62,28.24L125.63,28.41L126.63,28.59L127.63,28.77L128.64,28.95L129.64,29.13L130.64,29.31L131.64,29.49L132.65,29.67L133.65,29.85L134.65,30.03L135.66,30.22L136.66,30.42L137.66,30.62L138.66,30.82L139.67,31.03L140.67,31.25L141.67,31.48L142.68,31.72L143.68,31.97L144.68,32.23L145.68,32.5L146.69,32.79L147.69,33.08L148.69,33.39L149.7,33.7L150.7,34.03L151.7,34.36L152.71,34.71L153.71,35.06L154.71,35.42L155.71,35.79L156.72,36.17L157.72,36.57L158.72,36.99L159.73,37.43L160.73,37.88L161.73,38.34L162.73,38.81L163.74,39.29L164.74,39.78L165.74,40.28L166.75,40.77L167.75,41.27L168.75,41.78L169.75,42.27L170.76,42.77L171.76,43.27L172.76,43.77L173.77,44.28L174.77,44.8L175.77,45.35L176.77,45.91L177.78,46.49L178.78,47.11L179.78,47.76L180.79,48.45L181.79,49.22L182.79,50.04L183.79,50.91L184.8,51.81L185.8,52.74L186.8,53.67L187.81,54.6L188.81,55.51L189.81,56.39L190.82,57.22L191.82,58.02L192.82,58.77L193.82,59.5L194.83,60.23L195.83,60.95L196.83,61.69L197.84,62.45L198.84,63.25L199.84,64.11L200.84,65.02L201.85,66.02L202.85,67.11L203.85,68.37L204.86,69.78L205.86,71.31L206.86,72.93L207.86,74.6L208.87,76.29L209.87,77.97L210.87,79.6L211.88,81.22L212.88,82.86L213.88,84.52L214.88,86.21L215.89,87.94L216.89,89.74L217.89,91.61L218.9,93.57L219.9,95.65L220.9,97.82L221.9,100.05L222.91,102.29L223.91,104.53L224.91,106.71L225.92,108.83L226.92,110.93L227.92,113.07L228.92,115.3L229.93,117.67L230.93,120.24L231.93,123.01L232.94,125.94L233.94,129L234.94,132.14L235.95,135.34L236.95,138.56L237.95,141.76L238.95,145L239.96,148.3L240.96,151.7L241.96,155.22L242.97,158.9L243.97,162.79L244.97,166.82L245.97,170.93L246.98,175.05L247.98,179.12L248.98,183.1L249.99,187.04L250.99,191.03L251.99,195.13L252.99,199.39L254,203.79L255,208.3" stroke="#ff0000" stroke-width="2" stroke-dasharray="8.2 4.3" stroke-dashoffset="11.12"/>
<path d="M81.5,22.2L82.51,22.21L83.52,22.23L84.52,22.25L85.53,22.28L86.54,22.3L87.55,22.34L88.55,22.37L89.56,22.4L90.57,22.44L91.58,22.48L92.58,22.52L93.59,22.57L94.6,22.62L95.61,22.66L96.61,22.71L97.62,22.77L98.63,22.82L99.64,22.87L100.64,22.93L101.65,22.99L102.66,23.05L103.67,23.1L104.67,23.16L105.68,23.22L106.69,23.29L107.69,23.35L108.7,23.42L109.71,23.5L110.72,23.58L111.72,23.66L112.73,23.74L113.74,23.83L114.75,23.92L115.75,24.02L116.76,24.12L117.77,24.22L118.78,24.33L119.78,24.44L120.79,24.55L121.8,24.66L122.81,24.78L123.81,24.9L124.82,25.03L125.83,25.16L126.84,25.29L127.84,25.42L128.85,25.56L129.86,25.7L130.87,25.84L131.88,25.99L132.88,26.15L133.89,26.33L134.9,26.52L135.91,26.71L136.91,26.92L137.92,27.13L138.93,27.35L139.94,27.58L140.94,27.81L141.95,28.05L142.96,28.29L143.97,28.54L144.97,28.8L145.98,29.07L146.99,29.36L148,29.65L149,29.95L150.01,30.26L151.02,30.58L152.03,30.91L153.03,31.25L154.04,31.6L155.05,31.96L156.06,32.32L157.06,32.7L158.07,33.09L159.08,33.49L160.09,33.91L161.09,34.34L162.1,34.78L163.11,35.24L164.12,35.71L165.12,36.18L166.13,36.67L167.14,37.17L168.15,37.67L169.15,38.18L170.16,38.7L171.17,39.24L172.18,39.79L173.18,40.35L174.19,40.93L175.2,41.52L176.21,42.13L177.21,42.76L178.22,43.41L179.23,44.07L180.24,44.76L181.24,45.48L182.25,46.23L183.26,47.02L184.26,47.83L185.27,48.66L186.28,49.52L187.29,50.39L188.3,51.29L189.3,52.19L190.31,53.11L191.32,54.04L192.32,54.99L193.33,55.97L194.34,56.96L195.35,57.97L196.36,59.01L197.36,60.06L198.37,61.13L199.38,62.22L200.38,63.33L201.39,64.46L202.4,65.6L202.4,65.9L203.41,67.49L204.42,69.1L205.43,70.72L206.45,72.35L207.46,73.99L208.47,75.65L209.48,77.31L210.49,78.99L211.5,80.66L212.52,82.32L213.53,83.98L214.54,85.66L215.55,87.38L216.56,89.16L217.57,91L218.58,92.94L219.6,95.01L220.61,97.18L221.62,99.41L222.63,101.67L223.64,103.93L224.65,106.15L225.67,108.3L226.68,110.42L227.69,112.56L228.7,114.79L229.71,117.14L230.72,119.69L231.73,122.45L232.75,125.37L233.76,128.43L234.77,131.59L235.78,134.82L236.79,138.06L237.8,141.29L238.82,144.55L239.83,147.87L240.84,151.28L241.85,154.82L242.86,158.51L243.87,162.41L244.88,166.47L245.9,170.61L246.91,174.77L247.92,178.88L248.93,182.89L249.94,186.87L250.95,190.89L251.97,195.02L252.98,199.31L253.99,203.75L255,208.3" stroke="#0000ff" stroke-width="2" stroke-dasharray="8.2 4.3" stroke-dashoffset="11.03"/>
<path d="M81.5,25.4L82.5,25.4L83.5,25.4L84.51,25.4L85.51,25.4L86.51,25.4L87.51,25.4L88.51,25.4L89.52,25.4L90.52,25.4L91.52,25.4L92.52,25.4L93.53,25.4L94.53,25.4L95.53,25.4L96.53,25.4L97.53,25.4L98.54,25.4L99.54,25.4L100.54,25.4L101.54,25.4L102.54,25.4L103.55,25.4L104.55,25.4L105.55,25.4L106.55,25.4L107.55,25.4L108.56,25.4L109.56,25.4L110.56,25.4L111.56,25.4L112.57,25.4L113.57,25.4L114.57,25.41L115.57,25.41L116.57,25.41L117.58,25.42L118.58,25.42L119.58,25.43L120.58,25.43L121.58,25.44L122.59,25.44L123.59,25.45L124.59,25.46L125.59,25.46L126.59,25.47L127.6,25.48L128.6,25.49L129.6,25.5L130.6,25.51L131.61,25.52L132.61,25.54L133.61,25.56L134.61,25.58L135.61,25.61L136.62,25.63L137.62,25.67L138.62,25.7L139.62,25.74L140.62,25.77L141.63,25.81L142.63,25.85L143.63,25.9L144.63,25.94L145.63,25.98L146.64,26.02L147.64,26.07L148.64,26.11L149.64,26.15L150.65,26.19L151.65,26.24L152.65,26.27L153.65,26.31L154.65,26.35L155.66,26.39L156.66,26.43L157.66,26.47L158.66,26.51L159.66,26.55L160.67,26.59L161.67,26.63L162.67,26.68L163.67,26.72L164.67,26.76L165.68,26.8L166.68,26.85L167.68,26.89L168.68,26.93L169.69,26.98L170.69,27.02L171.69,27.07L172.69,27.11L173.69,27.16L174.7,27.21L175.7,27.25L176.7,27.3L176.7,27.3L177.73,27.59L178.76,27.89L179.79,28.18L180.81,28.47L181.84,28.76L182.87,29.06L183.9,29.35L184.93,29.64L185.96,29.94L186.99,30.23L188.01,30.52L189.04,30.81L190.07,31.11L191.1,31.4L192.13,31.69L193.16,31.99L194.19,32.28L195.21,32.57L196.24,32.86L197.27,33.16L198.3,33.45L199.33,33.74L200.36,34.04L201.39,34.33L202.41,34.62L203.44,34.91L204.47,35.21L205.5,35.5L205.5,35.5L206.54,36.18L207.58,36.86L208.62,37.54L209.66,38.22L210.7,38.9L211.74,39.58L212.78,40.26L213.82,40.94L214.86,41.62L215.9,42.3L216.94,42.98L217.98,43.66L219.02,44.34L220.06,45.02L221.1,45.7L221.1,45.7L222.1,46.91L223.11,48.08L224.11,49.23L225.11,50.36L226.11,51.46L227.12,52.53L228.12,53.58L229.12,54.62L230.12,55.61L231.13,56.52L232.13,57.43L233.13,58.42L234.14,59.54L235.14,60.76L236.14,62.04L237.14,63.39L238.15,64.75L239.15,66.15L240.15,67.59L241.16,69.08L242.16,70.6L243.16,72.14L244.16,73.69L245.17,75.23L246.17,76.76L247.17,78.33L248.17,79.94L249.18,81.52L250.18,83.01L251.18,84.33L252.19,85.57L253.19,86.77L254.19,87.86L255.19,88.81L256.2,89.56L257.2,90.21L258.2,90.82L259.2,91.33L260.21,91.71L261.21,91.91L262.21,92.03L263.22,92.14L264.22,92.24L265.22,92.32L266.22,92.38L267.23,92.44L268.23,92.47L269.23,92.49L270.24,92.5L271.24,92.5L272.24,92.5L273.24,92.5L274.25,92.51L275.25,92.51L276.25,92.51L277.25,92.51L278.26,92.51L279.26,92.51L280.26,92.51L281.27,92.51L282.27,92.52L283.27,92.52L284.27,92.52L285.28,92.52L286.28,92.52L287.28,92.52L288.28,92.52L289.29,92.52L290.29,92.52L291.29,92.52L292.3,92.53L293.3,92.53L294.3,92.53L295.3,92.53L296.31,92.53L297.31,92.53L298.31,92.53L299.32,92.53L300.32,92.53L301.32,92.53L302.32,92.53L303.33,92.53L304.33,92.53L305.33,92.54L306.33,92.54L307.34,92.54L308.34,92.54L309.34,92.54L310.35,92.54L311.35,92.54L312.35,92.54L313.35,92.54L314.36,92.54L315.36,92.54L316.36,92.54L317.36,92.54L318.37,92.54L319.37,92.54L320.37,92.54L321.38,92.54L322.38,92.54L323.38,92.54L324.38,92.54L325.39,92.54L326.39,92.55L327.39,92.55L328.4,92.55L329.4,92.55L330.4,92.55L331.4,92.55L332.41,92.55L333.41,92.55L334.41,92.55L335.41,92.55L336.42,92.55L337.42,92.55L338.42,92.55L339.43,92.55L340.43,92.55L341.43,92.55L342.43,92.55L343.44,92.55L344.44,92.55L345.44,92.55L346.44,92.55L347.45,92.55L348.45,92.55L349.45,92.55L350.46,92.55L351.46,92.55L352.46,92.55L353.46,92.55L354.47,92.55L355.47,92.55L356.47,92.55L357.48,92.55L358.48,92.55L359.48,92.55L360.48,92.55L361.49,92.55L362.49,92.55L363.49,92.55L364.49,92.55L365.5,92.55L366.5,92.55" stroke="#ff0000" stroke-width="1.45"/>
<path d="M81.5,22.2L82.51,22.21L83.52,22.23L84.52,22.25L85.53,22.28L86.54,22.3L87.55,22.34L88.55,22.37L89.56,22.4L90.57,22.44L91.58,22.48L92.58,22.52L93.59,22.57L94.6,22.62L95.61,22.66L96.61,22.71L97.62,22.77L98.63,22.82L99.64,22.87L100.64,22.93L101.65,22.99L102.66,23.05L103.67,23.1L104.67,23.16L105.68,23.22L106.69,23.29L107.69,23.35L108.7,23.42L109.71,23.5L110.72,23.58L111.72,23.66L112.73,23.74L113.74,23.83L114.75,23.92L115.75,24.02L116.76,24.12L117.77,24.22L118.78,24.33L119.78,24.44L120.79,24.55L121.8,24.66L122.81,24.78L123.81,24.9L124.82,25.03L125.83,25.16L126.84,25.29L127.84,25.42L128.85,25.56L129.86,25.7L130.87,25.84L131.88,25.99L132.88,26.15L133.89,26.33L134.9,26.52L135.91,26.71L136.91,26.92L137.92,27.13L138.93,27.35L139.94,27.58L140.94,27.81L141.95,28.05L142.96,28.29L143.97,28.54L144.97,28.8L145.98,29.07L146.99,29.36L148,29.65L149,29.95L150.01,30.26L151.02,30.58L152.03,30.91L153.03,31.25L154.04,31.6L155.05,31.96L156.06,32.32L157.06,32.7L158.07,33.09L159.08,33.49L160.09,33.91L161.09,34.34L162.1,34.78L163.11,35.24L164.12,35.71L165.12,36.18L166.13,36.67L167.14,37.17L168.15,37.67L169.15,38.18L170.16,38.7L171.17,39.24L172.18,39.79L173.18,40.35L174.19,40.93L175.2,41.52L176.21,42.13L177.21,42.76L178.22,43.41L179.23,44.07L180.24,44.76L181.24,45.48L182.25,46.23L183.26,47.02L184.26,47.83L185.27,48.66L186.28,49.52L187.29,50.39L188.3,51.29L189.3,52.19L190.31,53.11L191.32,54.04L192.32,54.99L193.33,55.97L194.34,56.96L195.35,57.97L196.36,59.01L197.36,60.06L198.37,61.13L199.38,62.22L200.38,63.33L201.39,64.46L202.4,65.6L202.4,65.6L203.41,65.86L204.42,66.11L205.43,66.37L206.44,66.62L207.46,66.88L208.47,67.13L209.48,67.39L210.49,67.64L211.5,67.9L212.51,68.16L213.52,68.41L214.53,68.67L215.54,68.92L216.56,69.18L217.57,69.43L218.58,69.69L219.59,69.94L220.6,70.2L220.6,70.2L221.61,70.65L222.61,71.11L223.62,71.58L224.62,72.06L225.63,72.54L226.63,73.04L227.64,73.54L228.64,74.05L229.65,74.56L230.66,75.09L231.66,75.62L232.67,76.16L233.67,76.7L234.68,77.25L235.68,77.79L236.69,78.34L237.69,78.9L238.7,79.46L239.7,80.04L240.71,80.63L241.72,81.24L242.72,81.87L243.73,82.53L244.73,83.2L245.74,83.91L246.74,84.68L247.75,85.56L248.75,86.47L249.76,87.33L250.77,88.12L251.77,88.89L252.78,89.62L253.78,90.27L254.79,90.79L255.79,91.24L256.8,91.65L257.8,92.01L258.81,92.33L259.82,92.61L260.82,92.86L261.83,93.09L262.83,93.3L263.84,93.5L264.84,93.68L265.85,93.86L266.85,94.04L267.86,94.22L268.86,94.4L269.87,94.59L270.88,94.8L271.88,95L272.89,95.21L273.89,95.42L274.9,95.63L275.9,95.84L276.91,96.05L277.91,96.26L278.92,96.47L279.93,96.68L280.93,96.89L281.94,97.1L282.94,97.3L283.95,97.5L284.95,97.71L285.96,97.91L286.96,98.12L287.97,98.33L288.98,98.54L289.98,98.76L290.99,98.99L291.99,99.22L293,99.45L294,99.69L295.01,99.93L296.01,100.18L297.02,100.43L298.02,100.68L299.03,100.95L300.04,101.22L301.04,101.49L302.05,101.77L303.05,102.06L304.06,102.35L305.06,102.64L306.07,102.95L307.07,103.26L308.08,103.59L309.09,103.93L310.09,104.3L311.1,104.68L312.1,105.08L313.11,105.51L314.11,105.96L315.12,106.42L316.12,106.91L317.13,107.42L318.14,107.94L319.14,108.47L320.15,109.02L321.15,109.58L322.16,110.15L323.16,110.73L324.17,111.32L325.17,111.91L326.18,112.51L327.18,113.11L328.19,113.74L329.2,114.37L330.2,115.03L331.21,115.69L332.21,116.37L333.22,117.07L334.22,117.77L335.23,118.49L336.23,119.22L337.24,119.97L338.25,120.72L339.25,121.49L340.26,122.26L341.26,123.05L342.27,123.85L343.27,124.66L344.28,125.49L345.28,126.34L346.29,127.19L347.3,128.07L348.3,128.96L349.31,129.87L350.31,130.79L351.32,131.72L352.32,132.68L353.33,133.64L354.33,134.63L355.34,135.63L356.34,136.64L357.35,137.68L358.36,138.75L359.36,139.85L360.37,140.98L361.37,142.13L362.38,143.31L363.38,144.5L364.39,145.72L365.39,146.95L366.4,148.2" stroke="#0000ff" stroke-width="1.45"/>
</g>
<g clip-path="url(#cr)" fill="none" stroke-linejoin="round">
<path d="M481.5,135.8H664.5" stroke="#161616" stroke-width="2"/>
<path d="M631.12,79.39L633.12,82.8L634.09,83.35L635.06,83.83L636.03,84.23L636.99,84.57L637.96,84.84L638.93,85.06L639.9,85.22L640.86,85.32L641.83,85.38L642.8,85.4L643.77,85.28L644.73,85.15L645.7,85.01L647.2,84.78L648.7,84.52L650.2,84.24L651.7,83.95L653.2,83.64L654.7,83.3L656.2,82.9L657.7,82.47L659.2,82.01L660.7,81.54L662.2,81.09L663.7,80.65L665.2,80.25L666.7,79.85L668.2,79.47L669.7,79.09L671.2,78.71L672.7,78.33L674.2,77.95L675.7,77.55L677.2,77.15L678.7,76.74L680.2,76.33L681.7,75.91L683.2,75.5L684.7,75.07L686.2,74.65L687.7,74.22L689.2,73.79L690.7,73.35L692.2,72.91L693.7,72.46L695.2,72L696.7,71.53L698.2,71.04L699.7,70.54L701.2,70.03L702.7,69.52L704.2,68.99L705.7,68.47L707.2,67.94L708.7,67.41L710.2,66.87L711.7,66.32L713.2,65.77L714.7,65.22L716.2,64.69L717.7,64.19L719.2,63.7L720.7,63.2L722.2,62.72L723.7,62.25L725.2,61.8L726.7,61.38L728.2,61L729.7,60.65L731.2,60.33L732.7,60.02L734.2,59.73L735.7,59.47L737.2,59.22L738.7,59.01L740.2,58.82L741.7,58.64L743.2,58.47L744.7,58.31L746.2,58.17L747.7,58.05L749.2,57.96L750.7,57.9L752.2,57.84L753.7,57.78L755.2,57.73L756.7,57.68L758.2,57.64L759.7,57.6L761.2,57.57L762.7,57.54L764.2,57.52L765.7,57.51M640.81,100.57L642.81,105.5L643.55,106.09L644.3,106.59L645.04,107.02L645.79,107.37L646.54,107.64L647.28,107.85L648.03,107.99L648.77,108.07L649.52,108.1L650.26,108L651.01,107.84L651.75,107.69L652.5,107.53L654,107.18L655.5,106.8L657,106.38L658.5,105.94L660,105.46L661.5,104.9L663,104.27L664.5,103.61L666,102.94L667.5,102.29L669,101.69L670.5,101.12L672,100.57L673.5,100.02L675,99.48L676.5,98.93L678,98.36L679.5,97.79L681,97.2L682.5,96.61L684,96.02L685.5,95.42L687,94.81L688.5,94.19L690,93.57L691.5,92.95L693,92.32L694.5,91.67L696,91.01L697.5,90.33L699,89.63L700.5,88.91L702,88.17L703.5,87.42L705,86.67L706.5,85.91L708,85.15L709.5,84.36L711,83.57L712.5,82.78L714,82L715.5,81.25L717,80.54L718.5,79.83L720,79.13L721.5,78.45L723,77.81L724.5,77.21L726,76.69L727.5,76.21L729,75.76L730.5,75.33L732,74.94L733.5,74.59L735,74.29L736.5,74.02L738,73.76L739.5,73.53L741,73.32L742.5,73.14L744,73L745.5,72.9L747,72.82L748.5,72.74L750,72.67L751.5,72.6L753,72.54L754.5,72.49L756,72.45L757.5,72.42L759,72.41L760.5,72.4L762,72.4L763.5,72.4L765,72.4L766.5,72.4M645.35,111.68L647.35,116.5L648.06,117.26L648.77,117.92L649.49,118.48L650.2,118.94L650.91,119.31L651.62,119.58L652.33,119.77L653.04,119.88L653.75,119.89L654.47,119.76L655.18,119.58L655.89,119.42L656.6,119.24L658.1,118.84L659.6,118.39L661.1,117.91L662.6,117.4L664.1,116.8L665.6,116.11L667.1,115.36L668.6,114.6L670.1,113.86L671.6,113.18L673.1,112.53L674.6,111.91L676.1,111.29L677.6,110.67L679.1,110.04L680.6,109.39L682.1,108.73L683.6,108.06L685.1,107.38L686.6,106.7L688.1,106.01L689.6,105.31L691.1,104.61L692.6,103.9L694.1,103.17L695.6,102.44L697.1,101.68L698.6,100.89L700.1,100.08L701.6,99.25L703.1,98.4L704.6,97.54L706.1,96.68L707.6,95.81L709.1,94.92L710.6,94.01L712.1,93.12L713.6,92.25L715.1,91.42L716.6,90.62L718.1,89.82L719.6,89.04L721.1,88.3L722.6,87.63L724.1,87.03L725.6,86.49L727.1,85.99L728.6,85.52L730.1,85.09L731.6,84.72L733.1,84.4L734.6,84.1L736.1,83.83L737.6,83.58L739.1,83.38L740.6,83.22L742.1,83.11L743.6,83.02L745.1,82.93L746.6,82.85L748.1,82.78L749.6,82.72L751.1,82.67L752.6,82.63L754.1,82.61L755.6,82.6L757.1,82.6L758.6,82.6L760.1,82.6L761.6,82.6L763.1,82.6L764.6,82.6L766.1,82.6M648.04,118.12L650.04,122.5L650.75,123.27L651.47,123.93L652.18,124.48L652.89,124.94L653.6,125.31L654.32,125.59L655.03,125.77L655.74,125.88L656.45,125.89L657.16,125.76L657.88,125.57L658.59,125.4L659.3,125.21L660.8,124.78L662.3,124.31L663.8,123.8L665.3,123.25L666.8,122.58L668.3,121.83L669.8,121.05L671.3,120.26L672.8,119.53L674.3,118.86L675.8,118.2L677.3,117.56L678.8,116.92L680.3,116.26L681.8,115.59L683.3,114.9L684.8,114.21L686.3,113.51L687.8,112.79L689.3,112.07L690.8,111.34L692.3,110.61L693.8,109.87L695.3,109.11L696.8,108.33L698.3,107.53L699.8,106.69L701.3,105.83L702.8,104.95L704.3,104.06L705.8,103.16L707.3,102.26L708.8,101.33L710.3,100.39L711.8,99.47L713.3,98.58L714.8,97.73L716.3,96.9L717.8,96.07L719.3,95.29L720.8,94.56L722.3,93.91L723.8,93.34L725.3,92.8L726.8,92.31L728.3,91.86L729.8,91.47L731.3,91.14L732.8,90.84L734.3,90.56L735.8,90.31L737.3,90.11L738.8,89.96L740.3,89.86L741.8,89.77L743.3,89.68L744.8,89.6L746.3,89.53L747.8,89.48L749.3,89.44L750.8,89.41L752.3,89.4L753.8,89.4L755.3,89.4L756.8,89.4L758.3,89.4L759.8,89.4L761.3,89.4L762.8,89.4L764.3,89.4L765.8,89.4M649.91,122.22L651.91,126.16L652.6,126.78L653.29,127.3L653.98,127.74L654.67,128.1L655.36,128.38L656.06,128.58L656.75,128.72L657.44,128.79L658.13,128.79L658.82,128.64L659.52,128.46L660.21,128.29L660.9,128.11L662.4,127.68L663.9,127.21L665.4,126.69L666.9,126.12L668.4,125.44L669.9,124.68L671.4,123.89L672.9,123.13L674.4,122.43L675.9,121.77L677.4,121.12L678.9,120.48L680.4,119.84L681.9,119.18L683.4,118.5L684.9,117.81L686.4,117.12L687.9,116.41L689.4,115.69L690.9,114.97L692.4,114.24L693.9,113.51L695.4,112.75L696.9,111.98L698.4,111.18L699.9,110.34L701.4,109.48L702.9,108.6L704.4,107.72L705.9,106.83L707.4,105.92L708.9,105L710.4,104.07L711.9,103.16L713.4,102.29L714.9,101.46L716.4,100.64L717.9,99.84L719.4,99.09L720.9,98.41L722.4,97.83L723.9,97.28L725.4,96.78L726.9,96.33L728.4,95.93L729.9,95.6L731.4,95.29L732.9,95.01L734.4,94.77L735.9,94.57L737.4,94.43L738.9,94.33L740.4,94.24L741.9,94.15L743.4,94.08L744.9,94.01L746.4,93.96L747.9,93.92L749.4,93.9L750.9,93.9L752.4,93.9L753.9,93.9L755.4,93.9L756.9,93.9L758.4,93.9L759.9,93.9L761.4,93.9L762.9,93.9L764.4,93.9L765.9,93.9M650.66,123.74L652.66,127.49L653.39,128.21L654.13,128.84L654.86,129.36L655.6,129.79L656.33,130.14L657.06,130.39L657.8,130.57L658.53,130.67L659.26,130.7L660,130.57L660.73,130.38L661.47,130.21L662.2,130.02L663.7,129.59L665.2,129.12L666.7,128.61L668.2,128.03L669.7,127.33L671.2,126.57L672.7,125.8L674.2,125.06L675.7,124.39L677.2,123.75L678.7,123.12L680.2,122.49L681.7,121.85L683.2,121.18L684.7,120.51L686.2,119.83L687.7,119.14L689.2,118.43L690.7,117.72L692.2,117.01L693.7,116.29L695.2,115.55L696.7,114.79L698.2,114L699.7,113.19L701.2,112.34L702.7,111.48L704.2,110.61L705.7,109.73L707.2,108.84L708.7,107.92L710.2,107.01L711.7,106.12L713.2,105.27L714.7,104.46L716.2,103.64L717.7,102.87L719.2,102.14L720.7,101.51L722.2,100.95L723.7,100.43L725.2,99.96L726.7,99.53L728.2,99.17L729.7,98.86L731.2,98.57L732.7,98.32L734.2,98.1L735.7,97.94L737.2,97.84L738.7,97.74L740.2,97.66L741.7,97.58L743.2,97.52L744.7,97.46L746.2,97.43L747.7,97.4L749.2,97.4L750.7,97.4L752.2,97.4L753.7,97.4L755.2,97.4L756.7,97.4L758.2,97.4L759.7,97.4L761.2,97.4L762.7,97.4L764.2,97.4L765.7,97.4M651.26,124.92L653.26,128.47L654.03,129.27L654.8,129.96L655.58,130.55L656.35,131.03L657.12,131.42L657.89,131.72L658.67,131.93L659.44,132.05L660.21,132.1L660.98,132.01L661.76,131.8L662.53,131.62L663.3,131.42L664.8,131L666.3,130.53L667.8,130.02L669.3,129.43L670.8,128.73L672.3,127.97L673.8,127.21L675.3,126.5L676.8,125.85L678.3,125.22L679.8,124.6L681.3,123.97L682.8,123.33L684.3,122.67L685.8,122.01L687.3,121.33L688.8,120.64L690.3,119.94L691.8,119.24L693.3,118.53L694.8,117.81L696.3,117.07L697.8,116.3L699.3,115.5L700.8,114.68L702.3,113.83L703.8,112.97L705.3,112.11L706.8,111.23L708.3,110.33L709.8,109.42L711.3,108.54L712.8,107.7L714.3,106.9L715.8,106.1L717.3,105.33L718.8,104.62L720.3,104L721.8,103.45L723.3,102.95L724.8,102.48L726.3,102.08L727.8,101.73L729.3,101.43L730.8,101.16L732.3,100.91L733.8,100.72L735.3,100.58L736.8,100.49L738.3,100.4L739.8,100.31L741.3,100.24L742.8,100.19L744.3,100.14L745.8,100.11L747.3,100.1L748.8,100.1L750.3,100.1L751.8,100.1L753.3,100.1L754.8,100.1L756.3,100.1L757.8,100.1L759.3,100.1L760.8,100.1L762.3,100.1L763.8,100.1L765.3,100.1M651.76,125.87L653.76,129.24L654.57,130.1L655.38,130.84L656.19,131.47L657,132L657.81,132.42L658.62,132.75L659.43,132.99L660.25,133.13L661.06,133.2L661.87,133.13L662.68,132.92L663.49,132.74L664.3,132.53L665.8,132.1L667.3,131.64L668.8,131.13L670.3,130.53L671.8,129.82L673.3,129.07L674.8,128.32L676.3,127.64L677.8,127L679.3,126.38L680.8,125.77L682.3,125.15L683.8,124.51L685.3,123.85L686.8,123.19L688.3,122.51L689.8,121.83L691.3,121.13L692.8,120.44L694.3,119.73L695.8,119L697.3,118.26L698.8,117.48L700.3,116.68L701.8,115.84L703.3,115L704.8,114.14L706.3,113.28L707.8,112.39L709.3,111.5L710.8,110.62L712.3,109.78L713.8,108.99L715.3,108.19L716.8,107.43L718.3,106.72L719.8,106.1L721.3,105.56L722.8,105.05L724.3,104.6L725.8,104.2L727.3,103.86L728.8,103.56L730.3,103.29L731.8,103.06L733.3,102.87L734.8,102.75L736.3,102.65L737.8,102.57L739.3,102.49L740.8,102.42L742.3,102.37L743.8,102.33L745.3,102.31L746.8,102.3L748.3,102.3L749.8,102.3L751.3,102.3L752.8,102.3L754.3,102.3L755.8,102.3L757.3,102.3L758.8,102.3L760.3,102.3L761.8,102.3L763.3,102.3L764.8,102.3L766.3,102.3M652.13,126.55L654.13,129.8L654.98,130.7L655.83,131.48L656.68,132.14L657.53,132.69L658.39,133.14L659.24,133.49L660.09,133.75L660.94,133.91L661.79,133.99L662.64,133.96L663.5,133.75L664.35,133.55L665.2,133.34L666.7,132.93L668.2,132.47L669.7,131.97L671.2,131.37L672.7,130.67L674.2,129.93L675.7,129.21L677.2,128.55L678.7,127.93L680.2,127.33L681.7,126.73L683.2,126.11L684.7,125.48L686.2,124.84L687.7,124.19L689.2,123.53L690.7,122.86L692.2,122.18L693.7,121.49L695.2,120.79L696.7,120.08L698.2,119.34L699.7,118.57L701.2,117.77L702.7,116.95L704.2,116.12L705.7,115.29L707.2,114.43L708.7,113.56L710.2,112.69L711.7,111.85L713.2,111.05L714.7,110.27L716.2,109.5L717.7,108.78L719.2,108.13L720.7,107.57L722.2,107.06L723.7,106.6L725.2,106.18L726.7,105.82L728.2,105.53L729.7,105.25L731.2,105.01L732.7,104.81L734.2,104.66L735.7,104.57L737.2,104.48L738.7,104.4L740.2,104.33L741.7,104.28L743.2,104.24L744.7,104.21L746.2,104.2L747.7,104.2L749.2,104.2L750.7,104.2L752.2,104.2L753.7,104.2L755.2,104.2L756.7,104.2L758.2,104.2L759.7,104.2L761.2,104.2L762.7,104.2L764.2,104.2L765.7,104.2M652.46,127.14L654.46,130.29L655.35,131.22L656.23,132.03L657.12,132.72L658.01,133.3L658.9,133.77L659.79,134.14L660.67,134.41L661.56,134.59L662.45,134.68L663.34,134.68L664.22,134.47L665.11,134.27L666,134.06L667.5,133.65L669,133.2L670.5,132.71L672,132.12L673.5,131.44L675,130.72L676.5,130.02L678,129.38L679.5,128.78L681,128.19L682.5,127.6L684,127.01L685.5,126.39L687,125.76L688.5,125.12L690,124.48L691.5,123.82L693,123.16L694.5,122.49L696,121.81L697.5,121.11L699,120.38L700.5,119.62L702,118.83L703.5,118.03L705,117.22L706.5,116.4L708,115.56L709.5,114.71L711,113.87L712.5,113.06L714,112.3L715.5,111.54L717,110.81L718.5,110.13L720,109.54L721.5,109.02L723,108.54L724.5,108.11L726,107.73L727.5,107.42L729,107.14L730.5,106.88L732,106.67L733.5,106.5L735,106.39L736.5,106.31L738,106.23L739.5,106.15L741,106.09L742.5,106.05L744,106.02L745.5,106L747,106L748.5,106L750,106L751.5,106L753,106L754.5,106L756,106L757.5,106L759,106L760.5,106L762,106L763.5,106L765,106L766.5,106M652.75,127.64L654.75,130.7L655.68,131.64L656.6,132.46L657.53,133.16L658.46,133.75L659.38,134.23L660.31,134.61L661.24,134.89L662.17,135.08L663.09,135.18L664.02,135.19L664.95,135L665.87,134.79L666.8,134.57L668.3,134.17L669.8,133.73L671.3,133.25L672.8,132.66L674.3,131.99L675.8,131.29L677.3,130.61L678.8,129.99L680.3,129.41L681.8,128.84L683.3,128.26L684.8,127.68L686.3,127.07L687.8,126.46L689.3,125.83L690.8,125.2L692.3,124.56L693.8,123.91L695.3,123.25L696.8,122.58L698.3,121.89L699.8,121.17L701.3,120.42L702.8,119.65L704.3,118.86L705.8,118.06L707.3,117.26L708.8,116.43L710.3,115.6L711.8,114.79L713.3,114.02L714.8,113.28L716.3,112.55L717.8,111.85L719.3,111.22L720.8,110.68L722.3,110.2L723.8,109.75L725.3,109.35L726.8,109.01L728.3,108.73L729.8,108.47L731.3,108.23L732.8,108.05L734.3,107.92L735.8,107.83L737.3,107.75L738.8,107.68L740.3,107.61L741.8,107.56L743.3,107.52L744.8,107.5L746.3,107.5L747.8,107.5L749.3,107.5L750.8,107.5L752.3,107.5L753.8,107.5L755.3,107.5L756.8,107.5L758.3,107.5L759.8,107.5L761.3,107.5L762.8,107.5L764.3,107.5L765.8,107.5M653.05,128.14L655.05,131.1L656.01,132.04L656.97,132.85L657.92,133.55L658.88,134.14L659.84,134.61L660.8,134.99L661.75,135.27L662.71,135.46L663.67,135.57L664.63,135.6L665.58,135.42L666.54,135.21L667.5,134.99L669,134.6L670.5,134.17L672,133.69L673.5,133.12L675,132.46L676.5,131.77L678,131.12L679.5,130.52L681,129.95L682.5,129.4L684,128.84L685.5,128.26L687,127.67L688.5,127.07L690,126.46L691.5,125.84L693,125.21L694.5,124.58L696,123.94L697.5,123.28L699,122.61L700.5,121.9L702,121.16L703.5,120.4L705,119.63L706.5,118.86L708,118.07L709.5,117.26L711,116.45L712.5,115.67L714,114.94L715.5,114.22L717,113.51L718.5,112.86L720,112.27L721.5,111.78L723,111.32L724.5,110.9L726,110.53L727.5,110.23L729,109.97L730.5,109.72L732,109.52L733.5,109.36L735,109.26L736.5,109.18L738,109.1L739.5,109.04L741,108.98L742.5,108.94L744,108.91L745.5,108.9L747,108.9L748.5,108.9L750,108.9L751.5,108.9L753,108.9L754.5,108.9L756,108.9L757.5,108.9L759,108.9L760.5,108.9L762,108.9L763.5,108.9L765,108.9L766.5,108.9M653.29,128.52L655.29,131.4L656.28,132.33L657.27,133.15L658.27,133.84L659.26,134.42L660.25,134.9L661.25,135.28L662.24,135.56L663.23,135.75L664.23,135.86L665.22,135.9L666.21,135.74L667.21,135.53L668.2,135.3L669.7,134.92L671.2,134.5L672.7,134.04L674.2,133.47L675.7,132.83L677.2,132.16L678.7,131.53L680.2,130.95L681.7,130.4L683.2,129.86L684.7,129.32L686.2,128.75L687.7,128.18L689.2,127.59L690.7,127L692.2,126.39L693.7,125.78L695.2,125.16L696.7,124.54L698.2,123.89L699.7,123.23L701.2,122.53L702.7,121.81L704.2,121.07L705.7,120.32L707.2,119.56L708.7,118.78L710.2,118L711.7,117.22L713.2,116.47L714.7,115.77L716.2,115.07L717.7,114.4L719.2,113.78L720.7,113.25L722.2,112.78L723.7,112.35L725.2,111.97L726.7,111.64L728.2,111.37L729.7,111.12L731.2,110.89L732.7,110.71L734.2,110.59L735.7,110.51L737.2,110.43L738.7,110.36L740.2,110.3L741.7,110.25L743.2,110.22L744.7,110.2L746.2,110.2L747.7,110.2L749.2,110.2L750.7,110.2L752.2,110.2L753.7,110.2L755.2,110.2L756.7,110.2L758.2,110.2L759.7,110.2L761.2,110.2L762.7,110.2L764.2,110.2L765.7,110.2M665,136.4L666.5,136.14L668,135.82L669.5,135.46L671,135.05L672.5,134.6L674,134.06L675.5,133.44L677,132.79L678.5,132.18L680,131.62L681.5,131.09L683,130.57L684.5,130.04L686,129.5L687.5,128.94L689,128.38L690.5,127.8L692,127.22L693.5,126.63L695,126.03L696.5,125.43L698,124.81L699.5,124.17L701,123.5L702.5,122.8L704,122.09L705.5,121.36L707,120.63L708.5,119.88L710,119.12L711.5,118.37L713,117.65L714.5,116.96L716,116.29L717.5,115.63L719,115.03L720.5,114.51L722,114.05L723.5,113.63L725,113.26L726.5,112.93L728,112.66L729.5,112.42L731,112.2L732.5,112.02L734,111.89L735.5,111.81L737,111.73L738.5,111.66L740,111.61L741.5,111.56L743,111.52L744.5,111.5L746,111.5L747.5,111.5L749,111.5L750.5,111.5L752,111.5L753.5,111.5L755,111.5L756.5,111.5L758,111.5L759.5,111.5L761,111.5L762.5,111.5L764,111.5L765.5,111.5M665,136.4L666.5,136.15L668,135.85L669.5,135.5L671,135.12L672.5,134.7L674,134.18L675.5,133.59L677,132.98L678.5,132.4L680,131.87L681.5,131.36L683,130.87L684.5,130.37L686,129.85L687.5,129.33L689,128.79L690.5,128.25L692,127.69L693.5,127.13L695,126.57L696.5,125.99L698,125.41L699.5,124.8L701,124.16L702.5,123.5L704,122.82L705.5,122.13L707,121.44L708.5,120.73L710,120.01L711.5,119.3L713,118.61L714.5,117.96L716,117.32L717.5,116.7L719,116.13L720.5,115.64L722,115.2L723.5,114.8L725,114.45L726.5,114.14L728,113.88L729.5,113.65L731,113.44L732.5,113.27L734,113.15L735.5,113.07L737,113L738.5,112.94L740,112.88L741.5,112.84L743,112.8L744.5,112.78L746,112.78L747.5,112.78L749,112.78L750.5,112.78L752,112.78L753.5,112.78L755,112.78L756.5,112.78L758,112.78L759.5,112.78L761,112.78L762.5,112.78L764,112.78L765.5,112.78M665,136.4L666.5,136.17L668,135.88L669.5,135.55L671,135.19L672.5,134.79L674,134.3L675.5,133.74L677,133.16L678.5,132.61L680,132.11L681.5,131.63L683,131.16L684.5,130.69L686,130.2L687.5,129.7L689,129.2L690.5,128.68L692,128.16L693.5,127.63L695,127.09L696.5,126.55L698,125.99L699.5,125.42L701,124.82L702.5,124.19L704,123.55L705.5,122.9L707,122.24L708.5,121.57L710,120.89L711.5,120.21L713,119.56L714.5,118.95L716,118.34L717.5,117.75L719,117.22L720.5,116.75L722,116.34L723.5,115.96L725,115.62L726.5,115.33L728,115.09L729.5,114.87L731,114.67L732.5,114.51L734,114.39L735.5,114.32L737,114.25L738.5,114.19L740,114.14L741.5,114.1L743,114.06L744.5,114.05L746,114.04L747.5,114.04L749,114.04L750.5,114.04L752,114.04L753.5,114.04L755,114.04L756.5,114.04L758,114.04L759.5,114.04L761,114.04L762.5,114.04L764,114.04L765.5,114.04M666.91,136.4L668.41,136.17L669.91,135.89L671.41,135.57L672.91,135.21L674.41,134.81L675.91,134.32L677.41,133.77L678.91,133.21L680.41,132.69L681.91,132.21L683.41,131.75L684.91,131.3L686.41,130.83L687.91,130.35L689.41,129.86L690.91,129.37L692.41,128.86L693.91,128.35L695.41,127.83L696.91,127.31L698.41,126.77L699.91,126.22L701.41,125.64L702.91,125.04L704.41,124.42L705.91,123.79L707.41,123.15L708.91,122.5L710.41,121.84L711.91,121.18L713.41,120.54L714.91,119.95L716.41,119.35L717.91,118.78L719.41,118.26L720.91,117.81L722.41,117.41L723.91,117.05L725.41,116.73L726.91,116.45L728.41,116.22L729.91,116.02L731.41,115.83L732.91,115.69L734.41,115.59L735.91,115.52L737.41,115.46L738.91,115.4L740.41,115.36L741.91,115.32L743.41,115.3L744.91,115.29L746.41,115.29L747.91,115.29L749.41,115.29L750.91,115.29L752.41,115.29L753.91,115.29L755.41,115.29L756.91,115.29L758.41,115.29L759.91,115.29L761.41,115.29L762.91,115.29L764.41,115.29L765.91,115.29M669.63,136.4L671.13,136.17L672.63,135.9L674.13,135.57L675.63,135.22L677.13,134.81L678.63,134.31L680.13,133.76L681.63,133.22L683.13,132.72L684.63,132.26L686.13,131.81L687.63,131.36L689.13,130.9L690.63,130.42L692.13,129.93L693.63,129.44L695.13,128.94L696.63,128.43L698.13,127.91L699.63,127.39L701.13,126.85L702.63,126.28L704.13,125.69L705.63,125.08L707.13,124.45L708.63,123.83L710.13,123.19L711.63,122.53L713.13,121.89L714.63,121.27L716.13,120.69L717.63,120.12L719.13,119.57L720.63,119.09L722.13,118.68L723.63,118.31L725.13,117.97L726.63,117.69L728.13,117.45L729.63,117.24L731.13,117.06L732.63,116.91L734.13,116.81L735.63,116.74L737.13,116.68L738.63,116.62L740.13,116.57L741.63,116.54L743.13,116.52L744.63,116.51L746.13,116.51L747.63,116.51L749.13,116.51L750.63,116.51L752.13,116.51L753.63,116.51L755.13,116.51L756.63,116.51L758.13,116.51L759.63,116.51L761.13,116.51L762.63,116.51L764.13,116.51L765.63,116.51M672.4,136.4L673.9,136.18L675.4,135.9L676.9,135.58L678.4,135.22L679.9,134.8L681.4,134.29L682.9,133.75L684.4,133.23L685.9,132.76L687.4,132.31L688.9,131.87L690.4,131.42L691.9,130.96L693.4,130.48L694.9,130L696.4,129.5L697.9,129.01L699.4,128.5L700.9,127.99L702.4,127.45L703.9,126.9L705.4,126.32L706.9,125.71L708.4,125.1L709.9,124.48L711.4,123.85L712.9,123.2L714.4,122.58L715.9,121.99L717.4,121.42L718.9,120.86L720.4,120.35L721.9,119.92L723.4,119.54L724.9,119.2L726.4,118.9L727.9,118.65L729.4,118.44L730.9,118.25L732.4,118.1L733.9,118L735.4,117.93L736.9,117.87L738.4,117.82L739.9,117.77L741.4,117.74L742.9,117.72L744.4,117.72L745.9,117.72L747.4,117.72L748.9,117.72L750.4,117.72L751.9,117.72L753.4,117.72L754.9,117.72L756.4,117.72L757.9,117.72L759.4,117.72L760.9,117.72L762.4,117.72L763.9,117.72L765.4,117.72M675.18,136.4L676.68,136.18L678.18,135.9L679.68,135.58L681.18,135.23L682.68,134.79L684.18,134.27L685.68,133.74L687.18,133.25L688.68,132.8L690.18,132.36L691.68,131.93L693.18,131.48L694.68,131.01L696.18,130.54L697.68,130.06L699.18,129.57L700.68,129.07L702.18,128.57L703.68,128.04L705.18,127.5L706.68,126.92L708.18,126.33L709.68,125.73L711.18,125.12L712.68,124.49L714.18,123.86L715.68,123.25L717.18,122.68L718.68,122.12L720.18,121.6L721.68,121.13L723.18,120.74L724.68,120.39L726.18,120.08L727.68,119.82L729.18,119.61L730.68,119.42L732.18,119.27L733.68,119.16L735.18,119.09L736.68,119.03L738.18,118.98L739.68,118.94L741.18,118.91L742.68,118.9L744.18,118.89L745.68,118.89L747.18,118.89L748.68,118.89L750.18,118.89L751.68,118.89L753.18,118.89L754.68,118.89L756.18,118.89L757.68,118.89L759.18,118.89L760.68,118.89L762.18,118.89L763.68,118.89L765.18,118.89M677.95,136.4L679.45,136.18L680.95,135.91L682.45,135.59L683.95,135.23L685.45,134.77L686.95,134.25L688.45,133.74L689.95,133.28L691.45,132.84L692.95,132.41L694.45,131.98L695.95,131.52L697.45,131.06L698.95,130.59L700.45,130.11L701.95,129.62L703.45,129.13L704.95,128.61L706.45,128.08L707.95,127.51L709.45,126.93L710.95,126.33L712.45,125.73L713.95,125.11L715.45,124.49L716.95,123.91L718.45,123.35L719.95,122.81L721.45,122.32L722.95,121.91L724.45,121.55L725.95,121.23L727.45,120.96L728.95,120.74L730.45,120.55L731.95,120.39L733.45,120.28L734.95,120.22L736.45,120.16L737.95,120.11L739.45,120.07L740.95,120.04L742.45,120.03L743.95,120.03L745.45,120.03L746.95,120.03L748.45,120.03L749.95,120.03L751.45,120.03L752.95,120.03L754.45,120.03L755.95,120.03L757.45,120.03L758.95,120.03L760.45,120.03L761.95,120.03L763.45,120.03L764.95,120.03L766.45,120.03M680.72,136.4L682.22,136.18L683.72,135.91L685.22,135.59L686.72,135.22L688.22,134.75L689.72,134.24L691.22,133.74L692.72,133.3L694.22,132.88L695.72,132.46L697.22,132.02L698.72,131.56L700.22,131.1L701.72,130.63L703.22,130.15L704.72,129.67L706.22,129.17L707.72,128.64L709.22,128.08L710.72,127.5L712.22,126.92L713.72,126.32L715.22,125.71L716.72,125.11L718.22,124.55L719.72,124.01L721.22,123.49L722.72,123.04L724.22,122.67L725.72,122.34L727.22,122.06L728.72,121.83L730.22,121.64L731.72,121.48L733.22,121.37L734.72,121.3L736.22,121.24L737.72,121.19L739.22,121.15L740.72,121.13L742.22,121.12L743.72,121.12L745.22,121.12L746.72,121.12L748.22,121.12L749.72,121.12L751.22,121.12L752.72,121.12L754.22,121.12L755.72,121.12L757.22,121.12L758.72,121.12L760.22,121.12L761.72,121.12L763.22,121.12L764.72,121.12L766.22,121.12M683.47,136.4L684.97,136.18L686.47,135.91L687.97,135.59L689.47,135.21L690.97,134.73L692.47,134.22L693.97,133.76L695.47,133.34L696.97,132.92L698.47,132.49L699.97,132.05L701.47,131.6L702.97,131.14L704.47,130.67L705.97,130.19L707.47,129.7L708.97,129.18L710.47,128.64L711.97,128.07L713.47,127.49L714.97,126.9L716.47,126.29L717.97,125.71L719.47,125.17L720.97,124.64L722.47,124.16L723.97,123.77L725.47,123.42L726.97,123.13L728.47,122.89L729.97,122.7L731.47,122.53L732.97,122.41L734.47,122.34L735.97,122.29L737.47,122.24L738.97,122.2L740.47,122.18L741.97,122.18L743.47,122.18L744.97,122.18L746.47,122.18L747.97,122.18L749.47,122.18L750.97,122.18L752.47,122.18L753.97,122.18L755.47,122.18L756.97,122.18L758.47,122.18L759.97,122.18L761.47,122.18L762.97,122.18L764.47,122.18L765.97,122.18M686.2,136.4L687.7,136.19L689.2,135.91L690.7,135.59L692.2,135.19L693.7,134.7L695.2,134.21L696.7,133.78L698.2,133.37L699.7,132.95L701.2,132.52L702.7,132.08L704.2,131.63L705.7,131.17L707.2,130.7L708.7,130.22L710.2,129.71L711.7,129.17L713.2,128.61L714.7,128.04L716.2,127.45L717.7,126.86L719.2,126.3L720.7,125.77L722.2,125.27L723.7,124.84L725.2,124.48L726.7,124.17L728.2,123.92L729.7,123.72L731.2,123.55L732.7,123.42L734.2,123.35L735.7,123.3L737.2,123.25L738.7,123.22L740.2,123.2L741.7,123.2L743.2,123.2L744.7,123.2L746.2,123.2L747.7,123.2L749.2,123.2L750.7,123.2L752.2,123.2L753.7,123.2L755.2,123.2L756.7,123.2L758.2,123.2L759.7,123.2L761.2,123.2L762.7,123.2L764.2,123.2L765.7,123.2M688.92,136.4L690.42,136.19L691.92,135.91L693.42,135.59L694.92,135.17L696.42,134.68L697.92,134.21L699.42,133.8L700.92,133.4L702.42,132.98L703.92,132.55L705.42,132.11L706.92,131.66L708.42,131.2L709.92,130.72L711.42,130.23L712.92,129.69L714.42,129.14L715.92,128.58L717.42,127.99L718.92,127.42L720.42,126.88L721.92,126.36L723.42,125.89L724.92,125.51L726.42,125.18L727.92,124.91L729.42,124.71L730.92,124.53L732.42,124.4L733.92,124.33L735.42,124.27L736.92,124.23L738.42,124.19L739.92,124.18L741.42,124.18L742.92,124.18L744.42,124.18L745.92,124.18L747.42,124.18L748.92,124.18L750.42,124.18L751.92,124.18L753.42,124.18L754.92,124.18L756.42,124.18L757.92,124.18L759.42,124.18L760.92,124.18L762.42,124.18L763.92,124.18L765.42,124.18M691.63,136.4L693.13,136.19L694.63,135.91L696.13,135.58L697.63,135.14L699.13,134.66L700.63,134.22L702.13,133.82L703.63,133.42L705.13,133L706.63,132.57L708.13,132.13L709.63,131.68L711.13,131.21L712.63,130.72L714.13,130.2L715.63,129.65L717.13,129.1L718.63,128.52L720.13,127.96L721.63,127.44L723.13,126.94L724.63,126.52L726.13,126.18L727.63,125.89L729.13,125.66L730.63,125.48L732.13,125.35L733.63,125.27L735.13,125.21L736.63,125.17L738.13,125.14L739.63,125.13L741.13,125.13L742.63,125.13L744.13,125.13L745.63,125.13L747.13,125.13L748.63,125.13L750.13,125.13L751.63,125.13L753.13,125.13L754.63,125.13L756.13,125.13L757.63,125.13L759.13,125.13L760.63,125.13L762.13,125.13L763.63,125.13L765.13,125.13M694.31,136.4L695.81,136.19L697.31,135.91L698.81,135.57L700.31,135.12L701.81,134.65L703.31,134.24L704.81,133.85L706.31,133.44L707.81,133.02L709.31,132.59L710.81,132.14L712.31,131.69L713.81,131.21L715.31,130.69L716.81,130.15L718.31,129.6L719.81,129.03L721.31,128.49L722.81,127.99L724.31,127.52L725.81,127.15L727.31,126.84L728.81,126.59L730.31,126.41L731.81,126.26L733.31,126.18L734.81,126.12L736.31,126.08L737.81,126.05L739.31,126.04L740.81,126.04L742.31,126.04L743.81,126.04L745.31,126.04L746.81,126.04L748.31,126.04L749.81,126.04L751.31,126.04L752.81,126.04L754.31,126.04L755.81,126.04L757.31,126.04L758.81,126.04L760.31,126.04L761.81,126.04L763.31,126.04L764.81,126.04L766.31,126.04M696.98,136.4L698.48,136.19L699.98,135.91L701.48,135.55L702.98,135.09L704.48,134.65L705.98,134.25L707.48,133.86L708.98,133.45L710.48,133.03L711.98,132.59L713.48,132.15L714.98,131.68L716.48,131.17L717.98,130.64L719.48,130.09L720.98,129.53L722.48,129.01L723.98,128.52L725.48,128.1L726.98,127.77L728.48,127.5L729.98,127.31L731.48,127.15L732.98,127.06L734.48,127L735.98,126.96L737.48,126.93L738.98,126.93L740.48,126.93L741.98,126.93L743.48,126.93L744.98,126.93L746.48,126.93L747.98,126.93L749.48,126.93L750.98,126.93L752.48,126.93L753.98,126.93L755.48,126.93L756.98,126.93L758.48,126.93L759.98,126.93L761.48,126.93L762.98,126.93L764.48,126.93L765.98,126.93M699.62,136.4L701.12,136.19L702.62,135.9L704.12,135.52L705.62,135.06L707.12,134.65L708.62,134.27L710.12,133.87L711.62,133.46L713.12,133.03L714.62,132.6L716.12,132.14L717.62,131.63L719.12,131.11L720.62,130.57L722.12,130.02L723.62,129.52L725.12,129.05L726.62,128.69L728.12,128.39L729.62,128.18L731.12,128.01L732.62,127.91L734.12,127.85L735.62,127.81L737.12,127.79L738.62,127.78L740.12,127.78L741.62,127.78L743.12,127.78L744.62,127.78L746.12,127.78L747.62,127.78L749.12,127.78L750.62,127.78L752.12,127.78L753.62,127.78L755.12,127.78L756.62,127.78L758.12,127.78L759.62,127.78L761.12,127.78L762.62,127.78L764.12,127.78L765.62,127.78M702.25,136.4L703.75,136.19L705.25,135.9L706.75,135.5L708.25,135.05L709.75,134.66L711.25,134.28L712.75,133.88L714.25,133.46L715.75,133.03L717.25,132.58L718.75,132.09L720.25,131.57L721.75,131.03L723.25,130.5L724.75,130.02L726.25,129.59L727.75,129.27L729.25,129.03L730.75,128.85L732.25,128.73L733.75,128.68L735.25,128.63L736.75,128.61L738.25,128.61L739.75,128.61L741.25,128.61L742.75,128.61L744.25,128.61L745.75,128.61L747.25,128.61L748.75,128.61L750.25,128.61L751.75,128.61L753.25,128.61L754.75,128.61L756.25,128.61L757.75,128.61L759.25,128.61L760.75,128.61L762.25,128.61L763.75,128.61L765.25,128.61M704.85,136.4L706.35,136.19L707.85,135.89L709.35,135.46L710.85,135.04L712.35,134.67L713.85,134.28L715.35,133.88L716.85,133.46L718.35,133.02L719.85,132.53L721.35,132.02L722.85,131.48L724.35,130.98L725.85,130.51L727.35,130.14L728.85,129.86L730.35,129.67L731.85,129.53L733.35,129.47L734.85,129.43L736.35,129.41L737.85,129.41L739.35,129.41L740.85,129.41L742.35,129.41L743.85,129.41L745.35,129.41L746.85,129.41L748.35,129.41L749.85,129.41L751.35,129.41L752.85,129.41L754.35,129.41L755.85,129.41L757.35,129.41L758.85,129.41L760.35,129.41L761.85,129.41L763.35,129.41L764.85,129.41L766.35,129.41M707.43,136.4L708.93,136.18L710.43,135.87L711.93,135.44L713.43,135.05L714.93,134.67L716.43,134.28L717.93,133.87L719.43,133.44L720.93,132.96L722.43,132.46L723.93,131.93L725.43,131.44L726.93,131L728.43,130.69L729.93,130.46L731.43,130.31L732.93,130.24L734.43,130.2L735.93,130.18L737.43,130.18L738.93,130.18L740.43,130.18L741.93,130.18L743.43,130.18L744.93,130.18L746.43,130.18L747.93,130.18L749.43,130.18L750.93,130.18L752.43,130.18L753.93,130.18L755.43,130.18L756.93,130.18L758.43,130.18L759.93,130.18L761.43,130.18L762.93,130.18L764.43,130.18L765.93,130.18M709.96,136.4L711.46,136.18L712.96,135.85L714.46,135.42L715.96,135.05L717.46,134.67L718.96,134.27L720.46,133.85L721.96,133.39L723.46,132.89L724.96,132.36L726.46,131.89L727.96,131.51L729.46,131.24L730.96,131.07L732.46,130.98L733.96,130.93L735.46,130.91L736.96,130.91L738.46,130.91L739.96,130.91L741.46,130.91L742.96,130.91L744.46,130.91L745.96,130.91L747.46,130.91L748.96,130.91L750.46,130.91L751.96,130.91L753.46,130.91L754.96,130.91L756.46,130.91L757.96,130.91L759.46,130.91L760.96,130.91L762.46,130.91L763.96,130.91L765.46,130.91M712.33,136.4L713.83,136.18L715.33,135.82L716.83,135.41L718.33,135.05L719.83,134.66L721.33,134.25L722.83,133.8L724.33,133.31L725.83,132.8L727.33,132.34L728.83,132.01L730.33,131.79L731.83,131.66L733.33,131.61L734.83,131.59L736.33,131.58L737.83,131.58L739.33,131.58L740.83,131.58L742.33,131.58L743.83,131.58L745.33,131.58L746.83,131.58L748.33,131.58L749.83,131.58L751.33,131.58L752.83,131.58L754.33,131.58L755.83,131.58L757.33,131.58L758.83,131.58L760.33,131.58L761.83,131.58L763.33,131.58L764.83,131.58L766.33,131.58M714.56,136.4L716.06,136.17L717.56,135.79L719.06,135.41L720.56,135.04L722.06,134.65L723.56,134.22L725.06,133.73L726.56,133.23L728.06,132.79L729.56,132.49L731.06,132.32L732.56,132.24L734.06,132.21L735.56,132.2L737.06,132.2L738.56,132.2L740.06,132.2L741.56,132.2L743.06,132.2L744.56,132.2L746.06,132.2L747.56,132.2L749.06,132.2L750.56,132.2L752.06,132.2L753.56,132.2L755.06,132.2L756.56,132.2L758.06,132.2L759.56,132.2L761.06,132.2L762.56,132.2L764.06,132.2L765.56,132.2M716.64,136.4L718.14,136.17L719.64,135.77L721.14,135.41L722.64,135.03L724.14,134.62L725.64,134.15L727.14,133.65L728.64,133.23L730.14,132.96L731.64,132.83L733.14,132.78L734.64,132.77L736.14,132.77L737.64,132.77L739.14,132.77L740.64,132.77L742.14,132.77L743.64,132.77L745.14,132.77L746.64,132.77L748.14,132.77L749.64,132.77L751.14,132.77L752.64,132.77L754.14,132.77L755.64,132.77L757.14,132.77L758.64,132.77L760.14,132.77L761.64,132.77L763.14,132.77L764.64,132.77L766.14,132.77M718.58,136.4L720.08,136.16L721.58,135.76L723.08,135.4L724.58,135.01L726.08,134.56L727.58,134.07L729.08,133.65L730.58,133.42L732.08,133.32L733.58,133.29L735.08,133.29L736.58,133.29L738.08,133.29L739.58,133.29L741.08,133.29L742.58,133.29L744.08,133.29L745.58,133.29L747.08,133.29L748.58,133.29L750.08,133.29L751.58,133.29L753.08,133.29L754.58,133.29L756.08,133.29L757.58,133.29L759.08,133.29L760.58,133.29L762.08,133.29L763.58,133.29L765.08,133.29L766.58,133.29M720.39,136.4L721.89,136.18L723.39,135.84L724.89,135.52L726.39,135.17L727.89,134.77L729.39,134.34L730.89,134.01L732.39,133.84L733.89,133.78L735.39,133.76L736.89,133.76L738.39,133.76L739.89,133.76L741.39,133.76L742.89,133.76L744.39,133.76L745.89,133.76L747.39,133.76L748.89,133.76L750.39,133.76L751.89,133.76L753.39,133.76L754.89,133.76L756.39,133.76L757.89,133.76L759.39,133.76L760.89,133.76L762.39,133.76L763.89,133.76L765.39,133.76M722.08,136.4L723.58,136.22L725.08,135.93L726.58,135.67L728.08,135.38L729.58,135.04L731.08,134.68L732.58,134.41L734.08,134.26L735.58,134.21L737.08,134.2L738.58,134.2L740.08,134.2L741.58,134.2L743.08,134.2L744.58,134.2L746.08,134.2L747.58,134.2L749.08,134.2L750.58,134.2L752.08,134.2L753.58,134.2L755.08,134.2L756.58,134.2L758.08,134.2L759.58,134.2L761.08,134.2L762.58,134.2L764.08,134.2L765.58,134.2M723.65,136.4L725.15,136.25L726.65,136.02L728.15,135.8L729.65,135.56L731.15,135.29L732.65,135L734.15,134.77L735.65,134.65L737.15,134.61L738.65,134.6L740.15,134.6L741.65,134.6L743.15,134.6L744.65,134.6L746.15,134.6L747.65,134.6L749.15,134.6L750.65,134.6L752.15,134.6L753.65,134.6L755.15,134.6L756.65,134.6L758.15,134.6L759.65,134.6L761.15,134.6L762.65,134.6L764.15,134.6L765.65,134.6M725.11,136.4L726.61,136.28L728.11,136.09L729.61,135.92L731.11,135.73L732.61,135.51L734.11,135.28L735.61,135.1L737.11,135.01L738.61,134.97L740.11,134.97L741.61,134.97L743.11,134.97L744.61,134.97L746.11,134.97L747.61,134.97L749.11,134.97L750.61,134.97L752.11,134.97L753.61,134.97L755.11,134.97L756.61,134.97L758.11,134.97L759.61,134.97L761.11,134.97L762.61,134.97L764.11,134.97L765.61,134.97M726.46,136.4L727.96,136.31L729.46,136.17L730.96,136.03L732.46,135.89L733.96,135.72L735.46,135.54L736.96,135.41L738.46,135.33L739.96,135.31L741.46,135.3L742.96,135.3L744.46,135.3L745.96,135.3L747.46,135.3L748.96,135.3L750.46,135.3L751.96,135.3L753.46,135.3L754.96,135.3L756.46,135.3L757.96,135.3L759.46,135.3L760.96,135.3L762.46,135.3L763.96,135.3L765.46,135.3" stroke="#ff8000" stroke-width="0.55" stroke-opacity="0.42"/>
<path d="M481.5,33.8H766.5" stroke="#ff9224" stroke-width="1.25"/>
<path d="M481.5,34.1L482.5,34.1L483.5,34.11L484.5,34.13L485.51,34.15L486.51,34.18L487.51,34.21L488.51,34.25L489.51,34.29L490.51,34.34L491.51,34.4L492.51,34.45L493.52,34.51L494.52,34.57L495.52,34.64L496.52,34.71L497.52,34.78L498.52,34.86L499.52,34.93L500.52,35.01L501.53,35.09L502.53,35.17L503.53,35.25L504.53,35.34L505.53,35.42L506.53,35.51L507.53,35.62L508.53,35.73L509.54,35.86L510.54,36L511.54,36.14L512.54,36.3L513.54,36.45L514.54,36.62L515.54,36.78L516.55,36.95L517.55,37.12L518.55,37.29L519.55,37.47L520.55,37.66L521.55,37.85L522.55,38.04L523.55,38.25L524.56,38.46L525.56,38.68L526.56,38.91L527.56,39.14L528.56,39.38L529.56,39.63L530.56,39.89L531.56,40.16L532.57,40.44L533.57,40.74L534.57,41.04L535.57,41.36L536.57,41.69L537.57,42.04L538.57,42.39L539.57,42.75L540.58,43.13L541.58,43.51L542.58,43.91L543.58,44.31L544.58,44.74L545.58,45.18L546.58,45.64L547.59,46.11L548.59,46.6L549.59,47.11L550.59,47.63L551.59,48.17L552.59,48.71L553.59,49.27L554.59,49.84L555.6,50.42L556.6,51.01L557.6,51.63L558.6,52.27L559.6,52.94L560.6,53.62L561.6,54.31L562.6,55.02L563.61,55.74L564.61,56.47L565.61,57.2L566.61,57.94L567.61,58.68L568.61,59.41L569.61,60.14L570.61,60.87L571.62,61.61L572.62,62.35L573.62,63.12L574.62,63.91L575.62,64.73L576.62,65.58L577.62,66.46L578.63,67.38L579.63,68.33L580.63,69.31L581.63,70.31L582.63,71.32L583.63,72.36L584.63,73.41L585.63,74.47L586.64,75.52L587.64,76.59L588.64,77.68L589.64,78.81L590.64,79.99L591.64,81.24L592.64,82.58L593.64,84.05L594.65,85.67L595.65,87.41L596.65,89.23L597.65,91.09L598.65,92.96L599.65,94.89L600.65,96.89L601.65,98.93L602.66,101L603.66,103.06L604.66,105.11L605.66,107.11L606.66,109.04L607.66,110.93L608.66,112.81L609.67,114.72L610.67,116.7L611.67,118.79L612.67,121.01L613.67,123.39L614.67,125.91L615.67,128.54L616.67,131.28L617.68,134.1L618.68,136.99L619.68,140.03L620.68,143.23L621.68,146.58L622.68,150.1L623.68,153.79L624.68,157.59L625.69,161.47L626.69,165.36L627.69,169.25L628.69,173.17L629.69,177.14L630.69,181.21L631.69,185.39L632.69,189.72L633.7,194.18L634.7,198.77L635.7,203.48L636.7,208.3" stroke="#ff0000" stroke-width="2" stroke-dasharray="8.2 4.3" stroke-dashoffset="9.88"/>
<path d="M481.5,29.2L482.5,29.24L483.5,29.28L484.51,29.33L485.51,29.38L486.51,29.44L487.51,29.5L488.52,29.57L489.52,29.64L490.52,29.71L491.52,29.78L492.53,29.86L493.53,29.95L494.53,30.03L495.53,30.12L496.54,30.21L497.54,30.31L498.54,30.4L499.55,30.5L500.55,30.6L501.55,30.7L502.55,30.81L503.56,30.91L504.56,31.02L505.56,31.13L506.56,31.24L507.56,31.36L508.57,31.48L509.57,31.6L510.57,31.73L511.57,31.87L512.58,32.01L513.58,32.15L514.58,32.3L515.59,32.45L516.59,32.61L517.59,32.78L518.59,32.95L519.6,33.12L520.6,33.3L521.6,33.49L522.6,33.68L523.61,33.87L524.61,34.07L525.61,34.28L526.61,34.49L527.62,34.71L528.62,34.94L529.62,35.17L530.62,35.41L531.62,35.66L532.63,35.94L533.63,36.25L534.63,36.58L535.63,36.92L536.64,37.29L537.64,37.66L538.64,38.05L539.64,38.44L540.65,38.84L541.65,39.24L542.65,39.64L543.65,40.04L544.66,40.44L545.66,40.84L546.66,41.25L547.66,41.67L548.67,42.09L549.67,42.53L550.67,42.97L551.67,43.43L552.68,43.9L553.68,44.38L554.68,44.87L555.68,45.39L556.69,45.92L557.69,46.47L558.69,47.04L559.69,47.64L560.7,48.25L561.7,48.87L562.7,49.52L563.7,50.18L564.71,50.85L565.71,51.54L566.71,52.25L567.71,52.96L568.72,53.69L569.72,54.43L570.72,55.2L571.73,56L572.73,56.81L573.73,57.65L574.73,58.5L575.74,59.37L576.74,60.26L577.74,61.15L578.74,62.05L579.75,62.97L580.75,63.88L581.75,64.8L582.75,65.75L583.75,66.74L584.76,67.8L585.76,68.96L586.76,70.2L587.76,71.53L588.77,72.93L589.77,74.38L590.77,75.88L591.77,77.41L592.78,78.97L593.78,80.54L594.78,82.17L595.78,83.83L596.79,85.54L597.79,87.29L598.79,89.08L599.79,90.92L600.8,92.79L601.8,94.7L601.8,95L602.81,97.18L603.83,99.34L604.84,101.48L605.86,103.61L606.87,105.72L607.89,107.79L608.9,109.76L609.91,111.69L610.93,113.62L611.94,115.62L612.96,117.72L613.97,119.99L614.99,122.48L616,125.17L617.01,128.03L618.03,131.04L619.04,134.15L620.06,137.37L621.07,140.8L622.09,144.42L623.1,148.21L624.11,152.23L625.13,156.4L626.14,160.63L627.16,164.81L628.17,168.89L629.19,172.88L630.2,176.88L631.21,180.93L632.23,185.12L633.24,189.49L634.26,194L635.27,198.65L636.29,203.42L637.3,208.3" stroke="#0000ff" stroke-width="2" stroke-dasharray="8.2 4.3" stroke-dashoffset="10.88"/>
<path d="M663.07,135.82L664.08,135.98L665.08,136.11L666.08,136.23L667.09,136.34L668.09,136.44L669.1,136.53L670.1,136.6L671.1,136.66L672.11,136.7L673.11,136.74L674.12,136.78L675.12,136.81L676.12,136.84L677.13,136.86L678.13,136.88L679.14,136.89L680.14,136.9L681.15,136.9L682.15,136.9L683.15,136.9L684.16,136.89L685.16,136.89L686.17,136.89L687.17,136.88L688.17,136.88L689.18,136.87L690.18,136.86L691.19,136.85L692.19,136.85L693.2,136.84L694.2,136.83L695.2,136.82L696.21,136.81L697.21,136.8L698.22,136.79L699.22,136.78L700.23,136.77L701.23,136.75L702.23,136.74L703.24,136.73L704.24,136.72L705.25,136.71L706.25,136.7L707.25,136.68L708.26,136.67L709.26,136.65L710.27,136.63L711.27,136.61L712.27,136.59L713.28,136.57L714.28,136.54L715.29,136.52L716.29,136.49L717.3,136.47L718.3,136.44L719.3,136.41L720.31,136.39L721.31,136.36L722.32,136.34L723.32,136.32L724.33,136.29L725.33,136.27L726.33,136.25L727.34,136.24L728.34,136.22L729.35,136.21L730.35,136.2L731.35,136.19L732.36,136.17L733.36,136.16L734.37,136.15L735.37,136.14L736.38,136.13L737.38,136.12L738.38,136.11L739.39,136.1L740.39,136.09L741.4,136.08L742.4,136.08L743.4,136.07L744.41,136.06L745.41,136.05L746.42,136.04L747.42,136.03L748.42,136.02L749.43,136.02L750.43,136.01L751.44,136L752.44,136L753.45,135.99L754.45,135.99L755.45,135.98L756.46,135.97L757.46,135.97L758.47,135.97L759.47,135.96L760.48,135.96L761.48,135.96L762.48,135.95L763.49,135.95L764.49,135.95L765.5,135.95L766.5,135.95" stroke="#ff0000" stroke-width="1.85"/>
<path d="M481.5,34.1L482.51,34.1L483.52,34.1L484.53,34.1L485.53,34.1L486.54,34.1L487.55,34.1L488.56,34.1L489.57,34.1L490.58,34.11L491.59,34.11L492.59,34.11L493.6,34.11L494.61,34.11L495.62,34.11L496.63,34.12L497.64,34.12L498.64,34.12L499.65,34.12L500.66,34.13L501.67,34.13L502.68,34.13L503.69,34.13L504.7,34.14L505.7,34.14L506.71,34.15L507.72,34.15L508.73,34.15L509.74,34.16L510.75,34.16L511.76,34.17L512.76,34.17L513.77,34.18L514.78,34.18L515.79,34.19L516.8,34.19L517.81,34.2L518.81,34.2L519.82,34.21L520.83,34.21L521.84,34.22L522.85,34.23L523.86,34.23L524.87,34.24L525.87,34.25L526.88,34.26L527.89,34.26L528.9,34.27L529.91,34.28L530.92,34.29L531.93,34.29L532.93,34.3L533.94,34.31L534.95,34.32L535.96,34.33L536.97,34.34L537.98,34.35L538.99,34.36L539.99,34.37L541,34.38L542.01,34.39L543.02,34.4L544.03,34.41L545.04,34.43L546.04,34.45L547.05,34.48L548.06,34.52L549.07,34.56L550.08,34.6L551.09,34.65L552.1,34.7L553.1,34.75L554.11,34.81L555.12,34.86L556.13,34.91L557.14,34.97L558.15,35.03L559.16,35.09L560.16,35.15L561.17,35.22L562.18,35.3L563.19,35.38L564.2,35.46L565.21,35.55L566.21,35.65L567.22,35.75L568.23,35.86L569.24,35.98L570.25,36.12L571.26,36.28L572.27,36.46L573.27,36.66L574.28,36.86L575.29,37.08L576.3,37.3L576.3,37.3L577.33,37.75L578.36,38.19L579.4,38.64L580.43,39.09L581.46,39.53L582.49,39.98L583.52,40.42L584.56,40.87L585.59,41.32L586.62,41.76L587.65,42.21L588.69,42.66L589.72,43.1L590.75,43.55L591.78,44L592.81,44.44L593.85,44.89L594.88,45.34L595.91,45.78L596.94,46.23L597.98,46.67L599.01,47.12L600.04,47.57L601.07,48.01L602.1,48.46L603.14,48.91L604.17,49.35L605.2,49.8L605.2,49.8L606.24,50.8L607.29,51.8L608.33,52.8L609.38,53.8L610.42,54.8L611.46,55.8L612.51,56.8L613.55,57.8L614.59,58.8L615.64,59.8L616.68,60.8L617.73,61.8L618.77,62.8L619.81,63.8L620.86,64.8L621.9,65.8L621.9,65.8L622.9,67.13L623.91,68.5L624.91,69.91L625.92,71.37L626.92,72.86L627.92,74.38L628.93,75.93L629.93,77.49L630.94,79.09L631.94,80.75L632.95,82.49L633.95,84.33L634.95,86.32L635.96,88.55L636.96,90.97L637.97,93.49L638.97,96.04L639.98,98.54L640.98,100.99L641.98,103.46L642.99,105.94L643.99,108.4L645,110.83L646,113.24L647,115.66L648.01,118.04L649.01,120.33L650.02,122.44L651.02,124.46L652.02,126.37L653.03,128.11L654.03,129.64L655.04,131.06L656.04,132.26L657.05,133.17L658.05,133.95L659.05,134.6L660.06,135.08L661.06,135.39L662.07,135.63L663.07,135.82L664.08,135.98L665.08,136.11L666.08,136.23L667.09,136.34L668.09,136.44L669.1,136.53L670.1,136.6L671.1,136.66L672.11,136.7L673.11,136.74L674.12,136.78L675.12,136.81L676.12,136.84L677.13,136.86L678.13,136.88L679.14,136.89L680.14,136.9L681.15,136.9L682.15,136.9L683.15,136.9L684.16,136.89L685.16,136.89L686.17,136.89L687.17,136.88L688.17,136.88L689.18,136.87L690.18,136.86L691.19,136.85L692.19,136.85L693.2,136.84L694.2,136.83L695.2,136.82L696.21,136.81L697.21,136.8L698.22,136.79L699.22,136.78L700.23,136.77L701.23,136.75L702.23,136.74L703.24,136.73L704.24,136.72L705.25,136.71L706.25,136.7L707.25,136.68L708.26,136.67L709.26,136.65L710.27,136.63L711.27,136.61L712.27,136.59L713.28,136.57L714.28,136.54L715.29,136.52L716.29,136.49L717.3,136.47L718.3,136.44L719.3,136.41L720.31,136.39L721.31,136.36L722.32,136.34L723.32,136.32L724.33,136.29L725.33,136.27L726.33,136.25L727.34,136.24L728.34,136.22L729.35,136.21L730.35,136.2L731.35,136.19L732.36,136.17L733.36,136.16L734.37,136.15L735.37,136.14L736.38,136.13L737.38,136.12L738.38,136.11L739.39,136.1L740.39,136.09L741.4,136.08L742.4,136.08L743.4,136.07L744.41,136.06L745.41,136.05L746.42,136.04L747.42,136.03L748.42,136.02L749.43,136.02L750.43,136.01L751.44,136L752.44,136L753.45,135.99L754.45,135.99L755.45,135.98L756.46,135.97L757.46,135.97L758.47,135.97L759.47,135.96L760.48,135.96L761.48,135.96L762.48,135.95L763.49,135.95L764.49,135.95L765.5,135.95L766.5,135.95" stroke="#ff0000" stroke-width="1.45"/>
<path d="M481.5,29.2L482.5,29.24L483.5,29.28L484.51,29.33L485.51,29.38L486.51,29.44L487.51,29.5L488.52,29.57L489.52,29.64L490.52,29.71L491.52,29.78L492.53,29.86L493.53,29.95L494.53,30.03L495.53,30.12L496.54,30.21L497.54,30.31L498.54,30.4L499.55,30.5L500.55,30.6L501.55,30.7L502.55,30.81L503.56,30.91L504.56,31.02L505.56,31.13L506.56,31.24L507.56,31.36L508.57,31.48L509.57,31.6L510.57,31.73L511.57,31.87L512.58,32.01L513.58,32.15L514.58,32.3L515.59,32.45L516.59,32.61L517.59,32.78L518.59,32.95L519.6,33.12L520.6,33.3L521.6,33.49L522.6,33.68L523.61,33.87L524.61,34.07L525.61,34.28L526.61,34.49L527.62,34.71L528.62,34.94L529.62,35.17L530.62,35.41L531.62,35.66L532.63,35.94L533.63,36.25L534.63,36.58L535.63,36.92L536.64,37.29L537.64,37.66L538.64,38.05L539.64,38.44L540.65,38.84L541.65,39.24L542.65,39.64L543.65,40.04L544.66,40.44L545.66,40.84L546.66,41.25L547.66,41.67L548.67,42.09L549.67,42.53L550.67,42.97L551.67,43.43L552.68,43.9L553.68,44.38L554.68,44.87L555.68,45.39L556.69,45.92L557.69,46.47L558.69,47.04L559.69,47.64L560.7,48.25L561.7,48.87L562.7,49.52L563.7,50.18L564.71,50.85L565.71,51.54L566.71,52.25L567.71,52.96L568.72,53.69L569.72,54.43L570.72,55.2L571.73,56L572.73,56.81L573.73,57.65L574.73,58.5L575.74,59.37L576.74,60.26L577.74,61.15L578.74,62.05L579.75,62.97L580.75,63.88L581.75,64.8L582.75,65.75L583.75,66.74L584.76,67.8L585.76,68.96L586.76,70.2L587.76,71.53L588.77,72.93L589.77,74.38L590.77,75.88L591.77,77.41L592.78,78.97L593.78,80.54L594.78,82.17L595.78,83.83L596.79,85.54L597.79,87.29L598.79,89.08L599.79,90.92L600.8,92.79L601.8,94.7L601.8,94.7L602.85,95.13L603.89,95.56L604.94,95.99L605.99,96.43L607.04,96.86L608.08,97.29L609.13,97.72L610.18,98.15L611.23,98.58L612.27,99.02L613.32,99.45L614.37,99.88L615.42,100.31L616.46,100.74L617.51,101.17L618.56,101.61L619.61,102.04L620.65,102.47L621.7,102.9L621.7,102.9L622.78,103.68L623.85,104.45L624.93,105.23L626,106L627.08,106.78L628.15,107.55L629.23,108.33L630.3,109.1L631.38,109.87L632.45,110.65L633.52,111.42L634.6,112.2L634.6,112.2L635.6,113.15L636.61,114.13L637.61,115.13L638.62,116.15L639.62,117.2L640.63,118.27L641.63,119.39L642.64,120.54L643.64,121.7L644.65,122.87L645.65,124.01L646.66,125.14L647.66,126.26L648.67,127.38L649.67,128.46L650.68,129.48L651.68,130.47L652.69,131.43L653.69,132.33L654.7,133.15L655.7,133.91L656.71,134.61L657.71,135.25L658.72,135.82L659.72,136.37L660.72,136.86L661.73,137.29L662.73,137.67L663.74,138L664.74,138.31L665.75,138.59L666.75,138.86L667.76,139.13L668.76,139.41L669.77,139.67L670.77,139.92L671.78,140.16L672.78,140.4L673.79,140.64L674.79,140.87L675.8,141.11L676.8,141.34L677.81,141.59L678.81,141.83L679.82,142.09L680.82,142.36L681.83,142.63L682.83,142.9L683.84,143.17L684.84,143.45L685.84,143.73L686.85,144.02L687.85,144.31L688.86,144.62L689.86,144.93L690.87,145.26L691.87,145.59L692.88,145.95L693.88,146.32L694.89,146.73L695.89,147.17L696.9,147.64L697.9,148.11L698.91,148.59L699.91,149.06L700.92,149.52L701.92,149.98L702.93,150.44L703.93,150.91L704.94,151.38L705.94,151.87L706.95,152.37L707.95,152.89L708.96,153.42L709.96,153.95L710.96,154.5L711.97,155.07L712.97,155.64L713.98,156.23L714.98,156.83L715.99,157.44L716.99,158.07L718,158.73L719,159.4L720.01,160.11L721.01,160.85L722.02,161.64L723.02,162.46L724.03,163.29L725.03,164.13L726.04,164.97L727.04,165.82L728.05,166.68L729.05,167.55L730.06,168.43L731.06,169.32L732.07,170.23L733.07,171.15L734.08,172.07L735.08,173L736.08,173.95L737.09,174.95L738.09,175.99L739.1,177.1L740.1,178.25L741.11,179.46L742.11,180.71L743.12,182L744.12,183.33L745.13,184.7L746.13,186.13L747.14,187.62L748.14,189.16L749.15,190.73L750.15,192.35L751.16,194.02L752.16,195.74L753.17,197.52L754.17,199.32L755.18,201.13L756.18,202.96L757.19,204.81L758.19,206.69L759.2,208.58L760.2,210.5" stroke="#0000ff" stroke-width="1.45"/>
</g>
<path d="M81,9H367M81,208.35H367" fill="none" stroke="#7d7d7d" stroke-width="1.25"/>
<path d="M81.5,9V208.35M366.5,9V208.35" fill="none" stroke="#565656" stroke-width="1"/>
<path d="M81.5,208.35v-3M81.5,9v3M110.1,208.35v-1.6M110.1,9v1.6M126.83,208.35v-1.6M126.83,9v1.6M138.7,208.35v-1.6M138.7,9v1.6M147.9,208.35v-2.6M147.9,9v2.6M155.42,208.35v-1.6M155.42,9v1.6M161.78,208.35v-1.6M161.78,9v1.6M167.29,208.35v-1.6M167.29,9v1.6M172.15,208.35v-1.6M172.15,9v1.6M176.5,208.35v-3M176.5,9v3M205.1,208.35v-1.6M205.1,9v1.6M221.83,208.35v-1.6M221.83,9v1.6M233.7,208.35v-1.6M233.7,9v1.6M242.9,208.35v-2.6M242.9,9v2.6M250.42,208.35v-1.6M250.42,9v1.6M256.78,208.35v-1.6M256.78,9v1.6M262.29,208.35v-1.6M262.29,9v1.6M267.15,208.35v-1.6M267.15,9v1.6M271.5,208.35v-3M271.5,9v3M300.1,208.35v-1.6M300.1,9v1.6M316.83,208.35v-1.6M316.83,9v1.6M328.7,208.35v-1.6M328.7,9v1.6M337.9,208.35v-2.6M337.9,9v2.6M345.42,208.35v-1.6M345.42,9v1.6M351.78,208.35v-1.6M351.78,9v1.6M357.29,208.35v-1.6M357.29,9v1.6M362.15,208.35v-1.6M362.15,9v1.6M366.5,208.35v-3M366.5,9v3" fill="none" stroke="#1c1c1c" stroke-width="0.8"/>
<path d="M81.5,15.88h3.4M366.5,15.88h-3.4M81.5,50.28h3.4M366.5,50.28h-3.4M81.5,84.67h3.4M366.5,84.67h-3.4M81.5,119.07h3.4M366.5,119.07h-3.4M81.5,153.47h3.4M366.5,153.47h-3.4M81.5,187.86h3.4M366.5,187.86h-3.4M81.5,22.76h1.9M366.5,22.76h-1.9M81.5,29.64h1.9M366.5,29.64h-1.9M81.5,36.52h1.9M366.5,36.52h-1.9M81.5,43.4h1.9M366.5,43.4h-1.9M81.5,57.16h1.9M366.5,57.16h-1.9M81.5,64.03h1.9M366.5,64.03h-1.9M81.5,70.91h1.9M366.5,70.91h-1.9M81.5,77.79h1.9M366.5,77.79h-1.9M81.5,91.55h1.9M366.5,91.55h-1.9M81.5,98.43h1.9M366.5,98.43h-1.9M81.5,105.31h1.9M366.5,105.31h-1.9M81.5,112.19h1.9M366.5,112.19h-1.9M81.5,125.95h1.9M366.5,125.95h-1.9M81.5,132.83h1.9M366.5,132.83h-1.9M81.5,139.71h1.9M366.5,139.71h-1.9M81.5,146.59h1.9M366.5,146.59h-1.9M81.5,160.34h1.9M366.5,160.34h-1.9M81.5,167.22h1.9M366.5,167.22h-1.9M81.5,174.1h1.9M366.5,174.1h-1.9M81.5,180.98h1.9M366.5,180.98h-1.9M81.5,194.74h1.9M366.5,194.74h-1.9M81.5,201.62h1.9M366.5,201.62h-1.9" fill="none" stroke="#6a6a6a" stroke-width="0.8"/>
<path d="M481,9H767M481,208.35H767" fill="none" stroke="#7d7d7d" stroke-width="1.25"/>
<path d="M481.5,9V208.35M766.5,9V208.35" fill="none" stroke="#565656" stroke-width="1"/>
<path d="M481.5,208.35v-3M481.5,9v3M510.1,208.35v-1.6M510.1,9v1.6M526.83,208.35v-1.6M526.83,9v1.6M538.7,208.35v-1.6M538.7,9v1.6M547.9,208.35v-2.6M547.9,9v2.6M555.42,208.35v-1.6M555.42,9v1.6M561.78,208.35v-1.6M561.78,9v1.6M567.29,208.35v-1.6M567.29,9v1.6M572.15,208.35v-1.6M572.15,9v1.6M576.5,208.35v-3M576.5,9v3M605.1,208.35v-1.6M605.1,9v1.6M621.83,208.35v-1.6M621.83,9v1.6M633.7,208.35v-1.6M633.7,9v1.6M642.9,208.35v-2.6M642.9,9v2.6M650.42,208.35v-1.6M650.42,9v1.6M656.78,208.35v-1.6M656.78,9v1.6M662.29,208.35v-1.6M662.29,9v1.6M667.15,208.35v-1.6M667.15,9v1.6M671.5,208.35v-3M671.5,9v3M700.1,208.35v-1.6M700.1,9v1.6M716.83,208.35v-1.6M716.83,9v1.6M728.7,208.35v-1.6M728.7,9v1.6M737.9,208.35v-2.6M737.9,9v2.6M745.42,208.35v-1.6M745.42,9v1.6M751.78,208.35v-1.6M751.78,9v1.6M757.29,208.35v-1.6M757.29,9v1.6M762.15,208.35v-1.6M762.15,9v1.6M766.5,208.35v-3M766.5,9v3" fill="none" stroke="#1c1c1c" stroke-width="0.8"/>
<path d="M481.5,30.1h3.4M766.5,30.1h-3.4M481.5,72.3h3.4M766.5,72.3h-3.4M481.5,114.5h3.4M766.5,114.5h-3.4M481.5,156.7h3.4M766.5,156.7h-3.4M481.5,198.9h3.4M766.5,198.9h-3.4M481.5,51.2h1.9M766.5,51.2h-1.9M481.5,93.4h1.9M766.5,93.4h-1.9M481.5,135.6h1.9M766.5,135.6h-1.9M481.5,177.8h1.9M766.5,177.8h-1.9" fill="none" stroke="#6a6a6a" stroke-width="0.8"/>
<text x="58.3" y="22.88" text-anchor="end" font-size="16.2" letter-spacing="-0.2">10</text><path d="M59.3,13.13h7.2" stroke="#000" stroke-width="0.95" fill="none"/><text x="74.6" y="16.88" text-anchor="end" font-size="13.8">1</text>
<text x="58.3" y="57.28" text-anchor="end" font-size="16.2" letter-spacing="-0.2">10</text><path d="M59.3,47.53h7.2" stroke="#000" stroke-width="0.95" fill="none"/><text x="74.6" y="51.28" text-anchor="end" font-size="13.8">6</text>
<text x="51.5" y="91.67" text-anchor="end" font-size="16.2" letter-spacing="-0.2">10</text><path d="M52.5,81.92h7.2" stroke="#000" stroke-width="0.95" fill="none"/><text x="74.6" y="85.67" text-anchor="end" font-size="13.8">11</text>
<text x="51.5" y="126.07" text-anchor="end" font-size="16.2" letter-spacing="-0.2">10</text><path d="M52.5,116.32h7.2" stroke="#000" stroke-width="0.95" fill="none"/><text x="74.6" y="120.07" text-anchor="end" font-size="13.8">16</text>
<text x="51.5" y="160.47" text-anchor="end" font-size="16.2" letter-spacing="-0.2">10</text><path d="M52.5,150.72h7.2" stroke="#000" stroke-width="0.95" fill="none"/><text x="74.6" y="154.47" text-anchor="end" font-size="13.8">21</text>
<text x="51.5" y="194.86" text-anchor="end" font-size="16.2" letter-spacing="-0.2">10</text><path d="M52.5,185.11h7.2" stroke="#000" stroke-width="0.95" fill="none"/><text x="74.6" y="188.86" text-anchor="end" font-size="13.8">26</text>
<text x="458.3" y="37.1" text-anchor="end" font-size="16.2" letter-spacing="-0.2">10</text><path d="M459.3,27.35h7.2" stroke="#000" stroke-width="0.95" fill="none"/><text x="474.6" y="31.1" text-anchor="end" font-size="13.8">2</text>
<text x="458.3" y="79.3" text-anchor="end" font-size="16.2" letter-spacing="-0.2">10</text><path d="M459.3,69.55h7.2" stroke="#000" stroke-width="0.95" fill="none"/><text x="474.6" y="73.3" text-anchor="end" font-size="13.8">6</text>
<text x="451.5" y="121.5" text-anchor="end" font-size="16.2" letter-spacing="-0.2">10</text><path d="M452.5,111.75h7.2" stroke="#000" stroke-width="0.95" fill="none"/><text x="474.6" y="115.5" text-anchor="end" font-size="13.8">10</text>
<text x="451.5" y="163.7" text-anchor="end" font-size="16.2" letter-spacing="-0.2">10</text><path d="M452.5,153.95h7.2" stroke="#000" stroke-width="0.95" fill="none"/><text x="474.6" y="157.7" text-anchor="end" font-size="13.8">14</text>
<text x="451.5" y="205.9" text-anchor="end" font-size="16.2" letter-spacing="-0.2">10</text><path d="M452.5,196.15h7.2" stroke="#000" stroke-width="0.95" fill="none"/><text x="474.6" y="199.9" text-anchor="end" font-size="13.8">18</text>
<text x="81.6" y="228" text-anchor="middle" font-size="16.2" letter-spacing="-0.4">1</text>
<text x="176.6" y="228" text-anchor="middle" font-size="16.2" letter-spacing="-0.4">10</text>
<text x="271.6" y="228" text-anchor="middle" font-size="16.2" letter-spacing="-0.4">100</text>
<text x="366.6" y="228" text-anchor="middle" font-size="16.2" letter-spacing="-0.4">1000</text>
<text x="481.6" y="228" text-anchor="middle" font-size="16.2" letter-spacing="-0.4">1</text>
<text x="576.6" y="228" text-anchor="middle" font-size="16.2" letter-spacing="-0.4">10</text>
<text x="671.6" y="228" text-anchor="middle" font-size="16.2" letter-spacing="-0.4">100</text>
<text x="766.6" y="228" text-anchor="middle" font-size="16.2" letter-spacing="-0.4">1000</text>
<g transform="translate(0,0)" fill="none" stroke="#111" stroke-linecap="round" stroke-linejoin="round"><path d="M222.9,245.1C222.5,247.0 221.9,249.8 221.55,251.6" stroke-width="1.25"/><path d="M219.15,246.7C219.3,245.2 220.0,244.4 220.9,244.4C221.9,244.4 222.5,244.9 222.8,245.9" stroke-width="0.65"/><path d="M219.7,250.7C219.7,251.7 220.3,252.1 221.0,252.1C221.4,252.1 221.6,251.9 221.6,251.5" stroke-width="0.65"/><path d="M222.9,245.9C223.2,244.9 223.9,244.35 225.0,244.4C225.6,244.45 225.95,244.8 225.95,245.3" stroke-width="0.65"/><path d="M221.7,250.7C221.7,251.8 222.3,252.15 223.4,252.1C224.9,252.0 225.9,251.0 226.3,249.5" stroke-width="0.65"/><circle cx="219.75" cy="250.55" r="0.65" fill="#111" stroke="none"/><circle cx="225.85" cy="245.45" r="0.65" fill="#111" stroke="none"/></g>
<g transform="translate(400,0)" fill="none" stroke="#111" stroke-linecap="round" stroke-linejoin="round"><path d="M222.9,245.1C222.5,247.0 221.9,249.8 221.55,251.6" stroke-width="1.25"/><path d="M219.15,246.7C219.3,245.2 220.0,244.4 220.9,244.4C221.9,244.4 222.5,244.9 222.8,245.9" stroke-width="0.65"/><path d="M219.7,250.7C219.7,251.7 220.3,252.1 221.0,252.1C221.4,252.1 221.6,251.9 221.6,251.5" stroke-width="0.65"/><path d="M222.9,245.9C223.2,244.9 223.9,244.35 225.0,244.4C225.6,244.45 225.95,244.8 225.95,245.3" stroke-width="0.65"/><path d="M221.7,250.7C221.7,251.8 222.3,252.15 223.4,252.1C224.9,252.0 225.9,251.0 226.3,249.5" stroke-width="0.65"/><circle cx="219.75" cy="250.55" r="0.65" fill="#111" stroke="none"/><circle cx="225.85" cy="245.45" r="0.65" fill="#111" stroke="none"/></g>
<g transform="translate(0,0)" fill="none" stroke="#111" stroke-linecap="round"><path d="M12.9,109.75L7.2,112.45" stroke-width="1.45"/><path d="M12.9,109.75L17.2,110.6" stroke-width="1.15"/><path d="M12.9,109.5L7.6,104.4" stroke-width="0.7"/><path d="M17.4,108.6V113.0M7.3,110.4V114.0M7.45,103.2V105.7" stroke-width="0.75"/></g>
<g transform="translate(400.3,0)" fill="none" stroke="#111" stroke-linecap="round"><path d="M12.9,109.75L7.2,112.45" stroke-width="1.45"/><path d="M12.9,109.75L17.2,110.6" stroke-width="1.15"/><path d="M12.9,109.5L7.6,104.4" stroke-width="0.7"/><path d="M17.4,108.6V113.0M7.3,110.4V114.0M7.45,103.2V105.7" stroke-width="0.75"/></g>
<g font-size="9.2" fill="#2a2a2a">
<text x="99.3" y="86.3" font-size="10.3">Ω</text>
<text x="107.6" y="86.3" font-size="10.2" font-style="italic">h</text>
<text x="114.6" y="82.7" font-size="8">2</text>
<path d="M125.4,82.7h7M125.4,84.5h7" stroke="#444" stroke-width="0.55" fill="none"/>
<text x="136.3" y="86.4" font-size="8.9" textLength="21.8" lengthAdjust="spacingAndGlyphs">0.12</text>
</g>
<g font-size="9.2" fill="#2a2a2a">
<text x="499.6" y="129" font-size="10.3">Ω</text>
<text x="507.9" y="129" font-size="10.2" font-style="italic">h</text>
<text x="514.9" y="125.4" font-size="8">2</text>
<path d="M525.7,125.4h7M525.7,127.2h7" stroke="#444" stroke-width="0.55" fill="none"/>
<text x="536.6" y="129.1" font-size="8.9" textLength="21.8" lengthAdjust="spacingAndGlyphs">0.12</text>
</g>
</svg></body></html>
